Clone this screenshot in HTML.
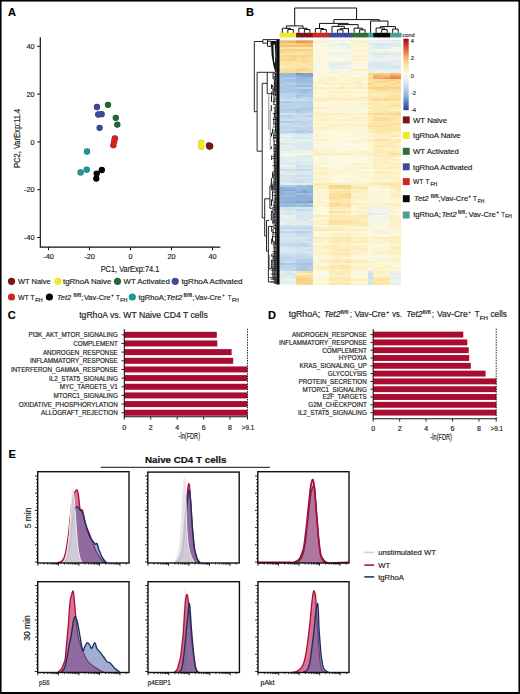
<!DOCTYPE html>
<html><head><meta charset="utf-8"><title>Figure</title><style>
html,body{margin:0;padding:0;background:#fff;width:520px;height:694px;overflow:hidden;}
svg{display:block;color:#231f20;}
text{font-family:"Liberation Sans",sans-serif;stroke:currentColor;stroke-width:0.18px;}
</style></head><body>
<svg width="520" height="694" viewBox="0 0 520 694">
<rect x="0" y="0" width="520" height="694" fill="#fff"/>
<rect x="0.75" y="0.75" width="518.5" height="692.3" fill="none" stroke="#000" stroke-width="1.6"/>
<rect x="0" y="692" width="520" height="2" fill="#000"/>
<text x="8" y="16" font-size="11" font-weight="bold" fill="#000" color="#000">A</text>
<path d="M40.3 37.3V247.2H220.3" fill="none" stroke="#111" stroke-width="1.2"/>
<path d="M37.2 46.3H40.3" stroke="#111" stroke-width="1"/>
<text x="34.5" y="48.90000000000001" font-size="7.3" text-anchor="end" fill="#231f20" color="#231f20">40</text>
<path d="M37.2 94.1H40.3" stroke="#111" stroke-width="1"/>
<text x="34.5" y="96.7" font-size="7.3" text-anchor="end" fill="#231f20" color="#231f20">20</text>
<path d="M37.2 141.9H40.3" stroke="#111" stroke-width="1"/>
<text x="34.5" y="144.5" font-size="7.3" text-anchor="end" fill="#231f20" color="#231f20">0</text>
<path d="M37.2 189.7H40.3" stroke="#111" stroke-width="1"/>
<text x="34.5" y="192.29999999999998" font-size="7.3" text-anchor="end" fill="#231f20" color="#231f20">-20</text>
<path d="M37.2 237.5H40.3" stroke="#111" stroke-width="1"/>
<text x="34.5" y="240.1" font-size="7.3" text-anchor="end" fill="#231f20" color="#231f20">-40</text>
<path d="M48.5 247.2V250.3" stroke="#111" stroke-width="1"/>
<text x="48.5" y="258.8" font-size="7.3" text-anchor="middle" fill="#231f20" color="#231f20">-40</text>
<path d="M89.5 247.2V250.3" stroke="#111" stroke-width="1"/>
<text x="89.5" y="258.8" font-size="7.3" text-anchor="middle" fill="#231f20" color="#231f20">-20</text>
<path d="M130.5 247.2V250.3" stroke="#111" stroke-width="1"/>
<text x="130.5" y="258.8" font-size="7.3" text-anchor="middle" fill="#231f20" color="#231f20">0</text>
<path d="M171.5 247.2V250.3" stroke="#111" stroke-width="1"/>
<text x="171.5" y="258.8" font-size="7.3" text-anchor="middle" fill="#231f20" color="#231f20">20</text>
<path d="M212.5 247.2V250.3" stroke="#111" stroke-width="1"/>
<text x="212.5" y="258.8" font-size="7.3" text-anchor="middle" fill="#231f20" color="#231f20">40</text>
<text x="130" y="271.6" font-size="8.6" text-anchor="middle" textLength="58.6" lengthAdjust="spacingAndGlyphs" fill="#231f20" color="#231f20">PC1, VarExp:74.1</text>
<text x="0" y="0" font-size="8.6" text-anchor="middle" fill="#231f20" textLength="59.3" lengthAdjust="spacingAndGlyphs" transform="translate(19.6,138.35) rotate(-90)">PC2, VarExp:11.4</text>
<circle cx="97.0" cy="107.0" r="3.15" fill="#2b3570"/>
<circle cx="98.2" cy="114.5" r="3.15" fill="#2b3570"/>
<circle cx="101.6" cy="114.2" r="3.15" fill="#2b3570"/>
<circle cx="99.6" cy="127.8" r="3.15" fill="#2b3570"/>
<circle cx="97.0" cy="107.0" r="2.65" fill="#3d4a9c"/>
<circle cx="98.2" cy="114.5" r="2.65" fill="#3d4a9c"/>
<circle cx="101.6" cy="114.2" r="2.65" fill="#3d4a9c"/>
<circle cx="99.6" cy="127.8" r="2.65" fill="#3d4a9c"/>
<circle cx="108" cy="104.8" r="3.15" fill="#164c22"/>
<circle cx="115.8" cy="117.8" r="3.15" fill="#164c22"/>
<circle cx="117.3" cy="124.6" r="3.15" fill="#164c22"/>
<circle cx="108" cy="104.8" r="2.65" fill="#1f6a30"/>
<circle cx="115.8" cy="117.8" r="2.65" fill="#1f6a30"/>
<circle cx="117.3" cy="124.6" r="2.65" fill="#1f6a30"/>
<circle cx="114.8" cy="138.4" r="3.15" fill="#951b15"/>
<circle cx="114.2" cy="141.5" r="3.15" fill="#951b15"/>
<circle cx="113.4" cy="145.2" r="3.15" fill="#951b15"/>
<circle cx="114.8" cy="138.4" r="2.65" fill="#d0261e"/>
<circle cx="114.2" cy="141.5" r="2.65" fill="#d0261e"/>
<circle cx="113.4" cy="145.2" r="2.65" fill="#d0261e"/>
<circle cx="87" cy="151.5" r="3.15" fill="#126e6c"/>
<circle cx="86.7" cy="169.7" r="3.15" fill="#126e6c"/>
<circle cx="80.6" cy="172.4" r="3.15" fill="#126e6c"/>
<circle cx="87" cy="151.5" r="2.65" fill="#1a9996"/>
<circle cx="86.7" cy="169.7" r="2.65" fill="#1a9996"/>
<circle cx="80.6" cy="172.4" r="2.65" fill="#1a9996"/>
<circle cx="101.8" cy="170" r="3.15" fill="#030303"/>
<circle cx="96.7" cy="173.6" r="3.15" fill="#030303"/>
<circle cx="96.3" cy="178.6" r="3.15" fill="#030303"/>
<circle cx="101.8" cy="170" r="2.65" fill="#050505"/>
<circle cx="96.7" cy="173.6" r="2.65" fill="#050505"/>
<circle cx="96.3" cy="178.6" r="2.65" fill="#050505"/>
<circle cx="201.3" cy="142.6" r="3.15" fill="#d4cc24"/>
<circle cx="200.9" cy="145.0" r="3.15" fill="#d4cc24"/>
<circle cx="201.3" cy="147.0" r="3.15" fill="#d4cc24"/>
<circle cx="201.3" cy="142.6" r="2.65" fill="#f2e82a"/>
<circle cx="200.9" cy="145.0" r="2.65" fill="#f2e82a"/>
<circle cx="201.3" cy="147.0" r="2.65" fill="#f2e82a"/>
<circle cx="209.0" cy="145.3" r="3.15" fill="#570f11"/>
<circle cx="210.2" cy="146.2" r="3.15" fill="#570f11"/>
<circle cx="209.4" cy="146.6" r="3.15" fill="#570f11"/>
<circle cx="209.0" cy="145.3" r="2.65" fill="#7a1518"/>
<circle cx="210.2" cy="146.2" r="2.65" fill="#7a1518"/>
<circle cx="209.4" cy="146.6" r="2.65" fill="#7a1518"/>
<circle cx="11.5" cy="281.3" r="3.6" fill="#7a1518"/>
<text x="17.9" y="284.1" font-size="7.8" textLength="32.8" lengthAdjust="spacingAndGlyphs" fill="#231f20" color="#231f20">WT Naive</text>
<circle cx="57.9" cy="281.3" r="3.6" fill="#f2e82a"/>
<text x="63" y="284.1" font-size="7.8" textLength="48.3" lengthAdjust="spacingAndGlyphs" fill="#231f20" color="#231f20">tgRhoA Naive</text>
<circle cx="117.5" cy="281.3" r="3.6" fill="#1f6a30"/>
<text x="123.5" y="284.1" font-size="7.8" textLength="46.3" lengthAdjust="spacingAndGlyphs" fill="#231f20" color="#231f20">WT Activated</text>
<circle cx="175.2" cy="281.3" r="3.6" fill="#3d4a9c"/>
<text x="181.4" y="284.1" font-size="7.8" textLength="61.2" lengthAdjust="spacingAndGlyphs" fill="#231f20" color="#231f20">tgRhoA Activated</text>
<circle cx="11.5" cy="297.0" r="3.6" fill="#d0261e"/>
<circle cx="49.4" cy="297.0" r="3.6" fill="#050505"/>
<circle cx="132.3" cy="297.0" r="3.6" fill="#1a9996"/>
<text x="17.9" y="299.80" font-size="7.80" fill="#231f20" color="#231f20" textLength="10.9" lengthAdjust="spacingAndGlyphs">WT</text>
<text x="30.2" y="299.80" font-size="7.80" fill="#231f20" color="#231f20" textLength="4.4" lengthAdjust="spacingAndGlyphs">T</text>
<text x="35.2" y="301.75" font-size="4.84" fill="#231f20" color="#231f20" textLength="7.5" lengthAdjust="spacingAndGlyphs">FH</text>
<text x="57.1" y="299.80" font-size="7.80" fill="#231f20" color="#231f20" textLength="13.9" lengthAdjust="spacingAndGlyphs" font-style="italic">Tet2</text>
<text x="73.5" y="296.84" font-size="4.68" fill="#231f20" color="#231f20" textLength="7.5" lengthAdjust="spacingAndGlyphs">fl/fl</text>
<text x="81.3" y="299.80" font-size="7.80" fill="#231f20" color="#231f20" textLength="2" lengthAdjust="spacingAndGlyphs">;</text>
<text x="83.9" y="299.80" font-size="7.80" fill="#231f20" color="#231f20" textLength="26.8" lengthAdjust="spacingAndGlyphs">Vav-Cre</text>
<text x="111.3" y="296.84" font-size="4.68" fill="#231f20" color="#231f20" textLength="2.4" lengthAdjust="spacingAndGlyphs">+</text>
<text x="115.9" y="299.80" font-size="7.80" fill="#231f20" color="#231f20" textLength="3.8" lengthAdjust="spacingAndGlyphs">T</text>
<text x="120.3" y="301.75" font-size="4.84" fill="#231f20" color="#231f20" textLength="7.2" lengthAdjust="spacingAndGlyphs">FH</text>
<text x="138.4" y="299.80" font-size="7.80" fill="#231f20" color="#231f20" textLength="27.7" lengthAdjust="spacingAndGlyphs">tgRhoA;</text>
<text x="166.1" y="299.80" font-size="7.80" fill="#231f20" color="#231f20" textLength="16.2" lengthAdjust="spacingAndGlyphs" font-style="italic">Tet2</text>
<text x="183.5" y="296.84" font-size="4.68" fill="#231f20" color="#231f20" textLength="8.5" lengthAdjust="spacingAndGlyphs">fl/fl</text>
<text x="192.5" y="299.80" font-size="7.80" fill="#231f20" color="#231f20" textLength="2" lengthAdjust="spacingAndGlyphs">;</text>
<text x="195" y="299.80" font-size="7.80" fill="#231f20" color="#231f20" textLength="26.3" lengthAdjust="spacingAndGlyphs">Vav-Cre</text>
<text x="222.5" y="296.84" font-size="4.68" fill="#231f20" color="#231f20" textLength="2" lengthAdjust="spacingAndGlyphs">+</text>
<text x="228.1" y="299.80" font-size="7.80" fill="#231f20" color="#231f20" textLength="3.4" lengthAdjust="spacingAndGlyphs">T</text>
<text x="231.9" y="301.75" font-size="4.84" fill="#231f20" color="#231f20" textLength="6.9" lengthAdjust="spacingAndGlyphs">FH</text>
<text x="246" y="16.2" font-size="11" font-weight="bold" fill="#000" color="#000">B</text>
<g shape-rendering="crispEdges">
<path fill="#f7d993" d="M279.50 39.5h5.52v0.5h-5.52zM290.55 42.5h5.52v2h-5.52zM290.55 50.5h5.52v2h-5.52zM296.07 54.5h5.52v2h-5.52zM301.59 58.5h5.52v2h-5.52zM301.59 68.5h5.52v2h-5.52zM367.86 72.5h5.52v2h-5.52zM384.43 78.5h5.52v2h-5.52zM373.39 80.5h11.05v2h-11.05zM378.91 112.5h5.52v2h-5.52zM340.25 186.5h5.52v2h-5.52zM345.77 192.5h5.52v2h-5.52zM345.77 194.5h5.52v2h-5.52zM329.20 196.5h5.52v2h-5.52zM334.73 202.5h5.52v2h-5.52zM307.11 270.5h5.52v2h-5.52zM307.11 276.5h5.52v2h-5.52zM301.59 282.5h5.52v2h-5.52z"/>
<path fill="#f7cf89" d="M285.02 39.5h5.52v0.5h-5.52zM389.95 78.5h5.52v2h-5.52z"/>
<path fill="#f7d489" d="M290.55 39.5h5.52v0.5h-5.52zM285.02 40h5.52v0.5h-5.52zM279.50 48.5h5.52v2h-5.52zM290.55 48.5h5.52v2h-5.52zM301.59 54.5h5.52v2h-5.52zM367.86 76.5h5.52v2h-5.52zM367.86 82.5h5.52v2h-5.52zM367.86 86.5h5.52v2h-5.52zM378.91 86.5h5.52v2h-5.52zM329.20 184.5h5.52v2h-5.52zM296.07 276.5h11.05v2h-11.05zM301.59 278.5h5.52v2h-5.52zM296.07 280.5h16.57v2h-16.57z"/>
<path fill="#f2bb70" d="M296.07 39.5h5.52v0.5h-5.52zM378.91 74.5h11.05v2h-11.05z"/>
<path fill="#f7bb70" d="M301.59 39.5h5.52v0.5h-5.52zM296.07 40h11.05v0.5h-11.05zM279.50 40.5h5.52v2h-5.52zM307.11 44.5h5.52v2h-5.52zM389.95 72.5h5.52v2h-5.52z"/>
<path fill="#f7c575" d="M307.11 39.5h5.52v0.5h-5.52zM279.50 44.5h5.52v2h-5.52zM301.59 44.5h5.52v2h-5.52z"/>
<path fill="#f2f7e8" d="M312.64 39.5h5.52v0.5h-5.52zM323.68 39.5h5.52v0.5h-5.52zM373.39 40.5h5.52v2h-5.52zM334.73 44.5h5.52v2h-5.52zM340.25 46.5h5.52v2h-5.52zM373.39 48.5h5.52v2h-5.52zM384.43 48.5h5.52v2h-5.52zM334.73 50.5h16.57v2h-16.57zM312.64 52.5h5.52v2h-5.52zM329.20 54.5h16.57v2h-16.57zM367.86 56.5h5.52v2h-5.52zM312.64 64.5h5.52v2h-5.52zM329.20 68.5h5.52v2h-5.52zM340.25 70.5h5.52v2h-5.52zM312.64 72.5h5.52v2h-5.52zM351.30 132.5h5.52v2h-5.52zM362.34 132.5h5.52v2h-5.52zM279.50 152.5h11.05v2h-11.05zM285.02 154.5h11.05v2h-11.05zM318.16 156.5h11.05v2h-11.05zM367.86 192.5h5.52v2h-5.52zM367.86 200.5h5.52v2h-5.52zM378.91 200.5h5.52v2h-5.52zM373.39 208.5h5.52v2h-5.52zM384.43 208.5h5.52v2h-5.52zM373.39 210.5h16.57v2h-16.57zM367.86 214.5h5.52v2h-5.52zM378.91 216.5h5.52v2h-5.52zM373.39 218.5h16.57v2h-16.57zM373.39 220.5h5.52v2h-5.52zM367.86 230.5h5.52v2h-5.52zM367.86 256.5h5.52v2h-5.52zM384.43 256.5h5.52v2h-5.52zM395.48 274.5h5.52v2h-5.52zM395.48 280.5h5.52v2h-5.52z"/>
<path fill="#f7f7e3" d="M318.16 39.5h5.52v0.5h-5.52zM356.82 39.5h5.52v0.5h-5.52zM312.64 40h5.52v0.5h-5.52zM362.34 42.5h5.52v2h-5.52zM318.16 44.5h5.52v2h-5.52zM356.82 64.5h11.05v2h-11.05zM312.64 68.5h5.52v2h-5.52zM340.25 108.5h5.52v2h-5.52zM351.30 108.5h5.52v2h-5.52zM312.64 142.5h5.52v2h-5.52zM329.20 164.5h5.52v2h-5.52zM384.43 190.5h5.52v2h-5.52zM373.39 200.5h5.52v2h-5.52zM373.39 214.5h5.52v2h-5.52zM367.86 218.5h5.52v2h-5.52zM367.86 226.5h5.52v2h-5.52zM318.16 256.5h5.52v2h-5.52zM356.82 272.5h5.52v2h-5.52z"/>
<path fill="#d9e8ed" d="M329.20 39.5h11.05v0.5h-11.05zM395.48 40h5.52v0.5h-5.52zM389.95 44.5h5.52v2h-5.52zM378.91 52.5h11.05v2h-11.05zM378.91 62.5h11.05v2h-11.05zM367.86 64.5h11.05v2h-11.05zM384.43 64.5h5.52v2h-5.52zM395.48 64.5h5.52v2h-5.52zM373.39 66.5h5.52v2h-5.52zM384.43 66.5h5.52v2h-5.52zM395.48 66.5h5.52v2h-5.52zM290.55 132.5h5.52v2h-5.52zM290.55 136.5h5.52v2h-5.52zM301.59 136.5h11.05v2h-11.05zM290.55 142.5h16.57v2h-16.57zM296.07 144.5h5.52v2h-5.52zM301.59 146.5h11.05v2h-11.05zM296.07 160.5h16.57v2h-16.57zM296.07 162.5h5.52v2h-5.52zM301.59 166.5h5.52v2h-5.52zM285.02 170.5h22.09v2h-22.09zM296.07 172.5h16.57v2h-16.57zM279.50 176.5h11.05v2h-11.05zM296.07 176.5h5.52v2h-5.52zM279.50 206.5h5.52v2h-5.52zM296.07 206.5h16.57v2h-16.57zM279.50 208.5h5.52v2h-5.52zM296.07 210.5h5.52v2h-5.52zM279.50 212.5h5.52v2h-5.52zM301.59 212.5h5.52v2h-5.52zM301.59 214.5h5.52v2h-5.52zM296.07 218.5h5.52v2h-5.52zM307.11 220.5h5.52v2h-5.52zM285.02 228.5h5.52v2h-5.52zM279.50 236.5h22.09v2h-22.09zM279.50 246.5h16.57v2h-16.57zM285.02 248.5h5.52v2h-5.52zM279.50 250.5h5.52v2h-5.52zM290.55 250.5h5.52v2h-5.52zM285.02 270.5h5.52v2h-5.52zM290.55 272.5h5.52v2h-5.52zM290.55 274.5h5.52v2h-5.52z"/>
<path fill="#dee8ed" d="M340.25 39.5h11.05v0.5h-11.05zM378.91 39.5h5.52v0.5h-5.52zM389.95 40h5.52v0.5h-5.52zM378.91 42.5h5.52v2h-5.52zM378.91 44.5h5.52v2h-5.52zM378.91 46.5h5.52v2h-5.52zM373.39 52.5h5.52v2h-5.52zM384.43 60.5h5.52v2h-5.52zM367.86 62.5h5.52v2h-5.52zM389.95 64.5h5.52v2h-5.52zM378.91 66.5h5.52v2h-5.52zM285.02 132.5h5.52v2h-5.52zM285.02 142.5h5.52v2h-5.52zM307.11 144.5h5.52v2h-5.52zM296.07 146.5h5.52v2h-5.52zM279.50 156.5h5.52v2h-5.52zM285.02 162.5h11.05v2h-11.05zM279.50 166.5h5.52v2h-5.52zM290.55 166.5h5.52v2h-5.52zM285.02 210.5h11.05v2h-11.05zM307.11 212.5h5.52v2h-5.52zM290.55 248.5h5.52v2h-5.52zM285.02 250.5h5.52v2h-5.52zM367.86 270.5h5.52v2h-5.52zM367.86 278.5h5.52v2h-5.52z"/>
<path fill="#f7f7e8" d="M351.30 39.5h5.52v0.5h-5.52zM318.16 40h5.52v0.5h-5.52zM334.73 40.5h11.05v2h-11.05zM318.16 42.5h5.52v2h-5.52zM329.20 46.5h11.05v2h-11.05zM389.95 46.5h11.05v2h-11.05zM378.91 48.5h5.52v2h-5.52zM395.48 48.5h5.52v2h-5.52zM329.20 50.5h5.52v2h-5.52zM318.16 52.5h11.05v2h-11.05zM345.77 54.5h5.52v2h-5.52zM329.20 56.5h22.09v2h-22.09zM312.64 62.5h16.57v2h-16.57zM323.68 64.5h5.52v2h-5.52zM351.30 64.5h5.52v2h-5.52zM312.64 66.5h5.52v2h-5.52zM323.68 66.5h5.52v2h-5.52zM334.73 68.5h11.05v2h-11.05zM323.68 70.5h5.52v2h-5.52zM351.30 70.5h5.52v2h-5.52zM323.68 72.5h5.52v2h-5.52zM351.30 72.5h16.57v2h-16.57zM312.64 84.5h5.52v2h-5.52zM362.34 108.5h5.52v2h-5.52zM356.82 132.5h5.52v2h-5.52zM334.73 142.5h5.52v2h-5.52zM351.30 142.5h5.52v2h-5.52zM362.34 142.5h5.52v2h-5.52zM329.20 148.5h11.05v2h-11.05zM345.77 148.5h5.52v2h-5.52zM290.55 152.5h11.05v2h-11.05zM307.11 152.5h5.52v2h-5.52zM329.20 160.5h5.52v2h-5.52zM312.64 164.5h11.05v2h-11.05zM367.86 174.5h5.52v2h-5.52zM367.86 196.5h5.52v2h-5.52zM384.43 200.5h5.52v2h-5.52zM312.64 208.5h5.52v2h-5.52zM312.64 212.5h5.52v2h-5.52zM367.86 216.5h11.05v2h-11.05zM378.91 220.5h11.05v2h-11.05zM373.39 222.5h16.57v2h-16.57zM395.48 230.5h5.52v2h-5.52zM367.86 242.5h5.52v2h-5.52zM356.82 256.5h5.52v2h-5.52zM373.39 256.5h11.05v2h-11.05zM318.16 272.5h5.52v2h-5.52z"/>
<path fill="#fcf7e3" d="M362.34 39.5h5.52v0.5h-5.52zM323.68 42.5h5.52v2h-5.52zM312.64 44.5h5.52v2h-5.52zM323.68 44.5h5.52v2h-5.52zM362.34 46.5h5.52v2h-5.52zM389.95 48.5h5.52v2h-5.52zM351.30 52.5h5.52v2h-5.52zM362.34 52.5h5.52v2h-5.52zM345.77 58.5h5.52v2h-5.52zM318.16 60.5h11.05v2h-11.05zM351.30 60.5h16.57v2h-16.57zM362.34 62.5h5.52v2h-5.52zM318.16 64.5h5.52v2h-5.52zM351.30 66.5h5.52v2h-5.52zM318.16 68.5h11.05v2h-11.05zM345.77 68.5h5.52v2h-5.52zM312.64 70.5h11.05v2h-11.05zM356.82 70.5h5.52v2h-5.52zM318.16 72.5h5.52v2h-5.52zM362.34 74.5h5.52v2h-5.52zM323.68 84.5h5.52v2h-5.52zM362.34 88.5h5.52v2h-5.52zM318.16 102.5h11.05v2h-11.05zM329.20 108.5h5.52v2h-5.52zM329.20 132.5h5.52v2h-5.52zM312.64 136.5h5.52v2h-5.52zM356.82 136.5h11.05v2h-11.05zM340.25 140.5h5.52v2h-5.52zM340.25 142.5h5.52v2h-5.52zM312.64 146.5h16.57v2h-16.57zM340.25 146.5h16.57v2h-16.57zM356.82 148.5h5.52v2h-5.52zM301.59 152.5h5.52v2h-5.52zM356.82 154.5h5.52v2h-5.52zM334.73 156.5h5.52v2h-5.52zM345.77 156.5h5.52v2h-5.52zM340.25 160.5h5.52v2h-5.52zM356.82 160.5h11.05v2h-11.05zM367.86 164.5h5.52v2h-5.52zM351.30 168.5h5.52v2h-5.52zM362.34 178.5h5.52v2h-5.52zM345.77 180.5h5.52v2h-5.52zM378.91 188.5h5.52v2h-5.52zM373.39 192.5h5.52v2h-5.52zM378.91 196.5h5.52v2h-5.52zM373.39 198.5h11.05v2h-11.05zM323.68 212.5h5.52v2h-5.52zM384.43 214.5h5.52v2h-5.52zM323.68 230.5h5.52v2h-5.52zM362.34 230.5h5.52v2h-5.52zM389.95 230.5h5.52v2h-5.52zM318.16 234.5h5.52v2h-5.52zM312.64 242.5h5.52v2h-5.52zM367.86 244.5h5.52v2h-5.52zM378.91 254.5h5.52v2h-5.52zM323.68 256.5h5.52v2h-5.52zM367.86 262.5h5.52v2h-5.52zM351.30 270.5h5.52v2h-5.52zM323.68 272.5h5.52v2h-5.52zM318.16 274.5h11.05v2h-11.05z"/>
<path fill="#e3eded" d="M367.86 39.5h5.52v0.5h-5.52zM373.39 40h11.05v0.5h-11.05zM340.25 42.5h5.52v2h-5.52zM367.86 42.5h5.52v2h-5.52zM395.48 42.5h5.52v2h-5.52zM373.39 54.5h11.05v2h-11.05zM395.48 54.5h5.52v2h-5.52zM395.48 58.5h5.52v2h-5.52zM367.86 60.5h5.52v2h-5.52zM378.91 60.5h5.52v2h-5.52zM395.48 60.5h5.52v2h-5.52zM334.73 62.5h11.05v2h-11.05zM389.95 62.5h5.52v2h-5.52zM329.20 64.5h5.52v2h-5.52zM384.43 68.5h5.52v2h-5.52zM367.86 70.5h5.52v2h-5.52zM290.55 134.5h22.09v2h-22.09zM285.02 136.5h5.52v2h-5.52zM285.02 138.5h11.05v2h-11.05zM290.55 144.5h5.52v2h-5.52zM279.50 146.5h16.57v2h-16.57zM279.50 148.5h5.52v2h-5.52zM301.59 148.5h5.52v2h-5.52zM296.07 154.5h5.52v2h-5.52zM285.02 156.5h22.09v2h-22.09zM285.02 158.5h5.52v2h-5.52zM296.07 158.5h5.52v2h-5.52zM307.11 158.5h5.52v2h-5.52zM279.50 160.5h16.57v2h-16.57zM301.59 162.5h5.52v2h-5.52zM285.02 166.5h5.52v2h-5.52zM279.50 170.5h5.52v2h-5.52zM279.50 172.5h16.57v2h-16.57zM279.50 182.5h5.52v2h-5.52zM301.59 182.5h11.05v2h-11.05zM367.86 212.5h16.57v2h-16.57zM279.50 216.5h5.52v2h-5.52zM279.50 218.5h16.57v2h-16.57zM285.02 220.5h11.05v2h-11.05zM301.59 220.5h5.52v2h-5.52zM290.55 222.5h22.09v2h-22.09zM395.48 272.5h5.52v2h-5.52zM279.50 276.5h16.57v2h-16.57zM395.48 276.5h5.52v2h-5.52zM279.50 278.5h5.52v2h-5.52zM285.02 280.5h11.05v2h-11.05z"/>
<path fill="#deeded" d="M373.39 39.5h5.52v0.5h-5.52zM384.43 40h5.52v0.5h-5.52zM389.95 42.5h5.52v2h-5.52zM373.39 44.5h5.52v2h-5.52zM384.43 44.5h5.52v2h-5.52zM395.48 44.5h5.52v2h-5.52zM373.39 46.5h5.52v2h-5.52zM384.43 46.5h5.52v2h-5.52zM389.95 52.5h11.05v2h-11.05zM373.39 60.5h5.52v2h-5.52zM389.95 60.5h5.52v2h-5.52zM329.20 62.5h5.52v2h-5.52zM345.77 62.5h5.52v2h-5.52zM367.86 66.5h5.52v2h-5.52zM279.50 136.5h5.52v2h-5.52zM296.07 140.5h16.57v2h-16.57zM301.59 144.5h5.52v2h-5.52zM285.02 148.5h5.52v2h-5.52zM296.07 148.5h5.52v2h-5.52zM307.11 148.5h5.52v2h-5.52zM301.59 154.5h11.05v2h-11.05zM307.11 156.5h5.52v2h-5.52zM279.50 158.5h5.52v2h-5.52zM279.50 162.5h5.52v2h-5.52zM307.11 162.5h5.52v2h-5.52zM296.07 182.5h5.52v2h-5.52zM279.50 210.5h5.52v2h-5.52zM301.59 216.5h5.52v2h-5.52zM307.11 218.5h5.52v2h-5.52zM296.07 220.5h5.52v2h-5.52zM285.02 222.5h5.52v2h-5.52zM279.50 272.5h5.52v2h-5.52zM389.95 272.5h5.52v2h-5.52zM285.02 274.5h5.52v2h-5.52zM279.50 280.5h5.52v2h-5.52z"/>
<path fill="#d4e3f2" d="M384.43 39.5h11.05v0.5h-11.05zM373.39 62.5h5.52v2h-5.52zM378.91 64.5h5.52v2h-5.52zM389.95 66.5h5.52v2h-5.52zM279.50 112.5h5.52v2h-5.52zM296.07 132.5h11.05v2h-11.05zM296.07 136.5h5.52v2h-5.52zM279.50 142.5h5.52v2h-5.52zM301.59 164.5h5.52v2h-5.52zM296.07 166.5h5.52v2h-5.52zM301.59 176.5h5.52v2h-5.52zM285.02 178.5h5.52v2h-5.52zM301.59 178.5h5.52v2h-5.52zM290.55 180.5h5.52v2h-5.52zM307.11 210.5h5.52v2h-5.52zM296.07 214.5h5.52v2h-5.52zM296.07 216.5h5.52v2h-5.52zM301.59 218.5h5.52v2h-5.52zM279.50 224.5h5.52v2h-5.52zM290.55 224.5h5.52v2h-5.52zM279.50 232.5h5.52v2h-5.52zM290.55 232.5h5.52v2h-5.52zM301.59 236.5h11.05v2h-11.05zM290.55 238.5h5.52v2h-5.52zM279.50 240.5h11.05v2h-11.05zM296.07 246.5h5.52v2h-5.52zM296.07 250.5h5.52v2h-5.52zM367.86 274.5h5.52v2h-5.52z"/>
<path fill="#cadeed" d="M395.48 39.5h5.52v0.5h-5.52zM285.02 98.5h22.09v2h-22.09zM301.59 112.5h11.05v2h-11.05zM296.07 116.5h16.57v2h-16.57zM279.50 118.5h11.05v2h-11.05zM301.59 118.5h5.52v2h-5.52zM279.50 122.5h11.05v2h-11.05zM290.55 124.5h5.52v2h-5.52zM279.50 168.5h5.52v2h-5.52zM307.11 168.5h5.52v2h-5.52zM279.50 174.5h5.52v2h-5.52zM296.07 174.5h5.52v2h-5.52zM307.11 174.5h5.52v2h-5.52zM296.07 180.5h5.52v2h-5.52zM301.59 208.5h11.05v2h-11.05zM285.02 224.5h5.52v2h-5.52zM296.07 228.5h5.52v2h-5.52zM307.11 232.5h5.52v2h-5.52zM296.07 234.5h16.57v2h-16.57zM296.07 238.5h5.52v2h-5.52zM307.11 238.5h5.52v2h-5.52zM307.11 242.5h5.52v2h-5.52zM279.50 244.5h5.52v2h-5.52zM307.11 248.5h5.52v2h-5.52zM279.50 252.5h5.52v2h-5.52zM296.07 252.5h5.52v2h-5.52zM367.86 272.5h5.52v2h-5.52zM367.86 276.5h5.52v2h-5.52z"/>
<path fill="#f7d48e" d="M279.50 40h5.52v0.5h-5.52zM290.55 40h5.52v0.5h-5.52zM285.02 42.5h5.52v2h-5.52zM279.50 50.5h5.52v2h-5.52zM285.02 54.5h11.05v2h-11.05zM307.11 54.5h5.52v2h-5.52zM290.55 56.5h5.52v2h-5.52zM296.07 68.5h5.52v2h-5.52zM384.43 86.5h16.57v2h-16.57zM395.48 112.5h5.52v2h-5.52zM340.25 184.5h11.05v2h-11.05zM307.11 278.5h5.52v2h-5.52z"/>
<path fill="#f7c075" d="M307.11 40h5.52v0.5h-5.52zM301.59 42.5h11.05v2h-11.05zM285.02 44.5h16.57v2h-16.57z"/>
<path fill="#fcfce3" d="M323.68 40h5.52v0.5h-5.52zM329.20 40.5h5.52v2h-5.52zM345.77 40.5h5.52v2h-5.52zM318.16 46.5h5.52v2h-5.52zM329.20 48.5h16.57v2h-16.57zM356.82 52.5h5.52v2h-5.52zM323.68 56.5h5.52v2h-5.52zM329.20 58.5h16.57v2h-16.57zM318.16 66.5h5.52v2h-5.52zM362.34 66.5h5.52v2h-5.52zM351.30 74.5h5.52v2h-5.52zM318.16 84.5h5.52v2h-5.52zM356.82 88.5h5.52v2h-5.52zM340.25 100.5h5.52v2h-5.52zM356.82 108.5h5.52v2h-5.52zM329.20 130.5h5.52v2h-5.52zM340.25 130.5h5.52v2h-5.52zM334.73 132.5h16.57v2h-16.57zM334.73 136.5h22.09v2h-22.09zM345.77 142.5h5.52v2h-5.52zM356.82 142.5h5.52v2h-5.52zM334.73 146.5h5.52v2h-5.52zM362.34 146.5h5.52v2h-5.52zM340.25 148.5h5.52v2h-5.52zM312.64 156.5h5.52v2h-5.52zM329.20 156.5h5.52v2h-5.52zM340.25 156.5h5.52v2h-5.52zM362.34 156.5h5.52v2h-5.52zM334.73 158.5h5.52v2h-5.52zM345.77 158.5h5.52v2h-5.52zM334.73 160.5h5.52v2h-5.52zM345.77 160.5h11.05v2h-11.05zM323.68 164.5h5.52v2h-5.52zM362.34 168.5h11.05v2h-11.05zM334.73 174.5h16.57v2h-16.57zM334.73 178.5h5.52v2h-5.52zM329.20 180.5h16.57v2h-16.57zM373.39 188.5h5.52v2h-5.52zM323.68 198.5h5.52v2h-5.52zM318.16 206.5h5.52v2h-5.52zM318.16 208.5h11.05v2h-11.05zM312.64 210.5h5.52v2h-5.52zM323.68 210.5h5.52v2h-5.52zM318.16 212.5h5.52v2h-5.52zM378.91 214.5h5.52v2h-5.52zM367.86 220.5h5.52v2h-5.52zM378.91 224.5h5.52v2h-5.52zM378.91 234.5h11.05v2h-11.05zM373.39 254.5h5.52v2h-5.52zM384.43 254.5h5.52v2h-5.52zM351.30 256.5h5.52v2h-5.52zM362.34 256.5h5.52v2h-5.52zM318.16 270.5h11.05v2h-11.05zM312.64 274.5h5.52v2h-5.52zM351.30 274.5h5.52v2h-5.52zM356.82 280.5h5.52v2h-5.52z"/>
<path fill="#e8f2ed" d="M329.20 40h5.52v0.5h-5.52zM367.86 40h5.52v0.5h-5.52zM384.43 40.5h5.52v2h-5.52zM395.48 40.5h5.52v2h-5.52zM334.73 42.5h5.52v2h-5.52zM367.86 44.5h5.52v2h-5.52zM367.86 46.5h5.52v2h-5.52zM367.86 52.5h5.52v2h-5.52zM389.95 54.5h5.52v2h-5.52zM373.39 56.5h11.05v2h-11.05zM389.95 56.5h5.52v2h-5.52zM395.48 62.5h5.52v2h-5.52zM334.73 64.5h11.05v2h-11.05zM329.20 66.5h5.52v2h-5.52zM340.25 66.5h5.52v2h-5.52zM373.39 68.5h5.52v2h-5.52zM389.95 68.5h5.52v2h-5.52zM389.95 70.5h5.52v2h-5.52zM279.50 134.5h5.52v2h-5.52zM279.50 138.5h5.52v2h-5.52zM296.07 138.5h16.57v2h-16.57zM279.50 140.5h16.57v2h-16.57zM279.50 144.5h11.05v2h-11.05zM290.55 148.5h5.52v2h-5.52zM285.02 150.5h5.52v2h-5.52zM296.07 150.5h5.52v2h-5.52zM290.55 158.5h5.52v2h-5.52zM301.59 158.5h5.52v2h-5.52zM285.02 164.5h11.05v2h-11.05zM285.02 182.5h11.05v2h-11.05zM367.86 210.5h5.52v2h-5.52zM384.43 212.5h5.52v2h-5.52zM285.02 216.5h11.05v2h-11.05zM279.50 220.5h5.52v2h-5.52zM279.50 270.5h5.52v2h-5.52zM290.55 270.5h5.52v2h-5.52zM389.95 270.5h5.52v2h-5.52zM389.95 274.5h5.52v2h-5.52zM389.95 276.5h5.52v2h-5.52zM389.95 278.5h11.05v2h-11.05zM279.50 282.5h16.57v2h-16.57zM389.95 282.5h5.52v2h-5.52z"/>
<path fill="#edf2e8" d="M334.73 40h5.52v0.5h-5.52zM345.77 40h5.52v0.5h-5.52zM367.86 40.5h5.52v2h-5.52zM378.91 40.5h5.52v2h-5.52zM329.20 44.5h5.52v2h-5.52zM345.77 44.5h5.52v2h-5.52zM345.77 46.5h5.52v2h-5.52zM367.86 48.5h5.52v2h-5.52zM367.86 50.5h27.61v2h-27.61zM367.86 54.5h5.52v2h-5.52zM367.86 58.5h5.52v2h-5.52zM329.20 60.5h5.52v2h-5.52zM345.77 60.5h5.52v2h-5.52zM345.77 66.5h5.52v2h-5.52zM367.86 68.5h5.52v2h-5.52zM378.91 68.5h5.52v2h-5.52zM329.20 70.5h5.52v2h-5.52zM384.43 70.5h5.52v2h-5.52zM279.50 150.5h5.52v2h-5.52zM367.86 206.5h5.52v2h-5.52zM378.91 206.5h5.52v2h-5.52zM290.55 214.5h5.52v2h-5.52zM389.95 280.5h5.52v2h-5.52z"/>
<path fill="#edf2ed" d="M340.25 40h5.52v0.5h-5.52zM389.95 40.5h5.52v2h-5.52zM329.20 42.5h5.52v2h-5.52zM345.77 42.5h5.52v2h-5.52zM340.25 44.5h5.52v2h-5.52zM395.48 50.5h5.52v2h-5.52zM329.20 52.5h11.05v2h-11.05zM345.77 52.5h5.52v2h-5.52zM384.43 54.5h5.52v2h-5.52zM384.43 56.5h5.52v2h-5.52zM395.48 56.5h5.52v2h-5.52zM373.39 58.5h22.09v2h-22.09zM340.25 60.5h5.52v2h-5.52zM345.77 64.5h5.52v2h-5.52zM334.73 66.5h5.52v2h-5.52zM395.48 68.5h5.52v2h-5.52zM334.73 70.5h5.52v2h-5.52zM345.77 70.5h5.52v2h-5.52zM373.39 70.5h11.05v2h-11.05zM395.48 70.5h5.52v2h-5.52zM285.02 134.5h5.52v2h-5.52zM290.55 150.5h5.52v2h-5.52zM301.59 150.5h11.05v2h-11.05zM279.50 154.5h5.52v2h-5.52zM279.50 164.5h5.52v2h-5.52zM373.39 206.5h5.52v2h-5.52zM384.43 206.5h5.52v2h-5.52zM367.86 208.5h5.52v2h-5.52zM378.91 208.5h5.52v2h-5.52zM279.50 214.5h11.05v2h-11.05zM384.43 216.5h5.52v2h-5.52zM373.39 230.5h16.57v2h-16.57zM395.48 270.5h5.52v2h-5.52zM290.55 278.5h5.52v2h-5.52z"/>
<path fill="#fcf2ca" d="M351.30 40h5.52v0.5h-5.52zM362.34 40h5.52v0.5h-5.52zM312.64 40.5h5.52v2h-5.52zM323.68 40.5h5.52v2h-5.52zM356.82 44.5h11.05v2h-11.05zM362.34 48.5h5.52v2h-5.52zM351.30 58.5h5.52v2h-5.52zM340.25 74.5h5.52v2h-5.52zM329.20 76.5h5.52v2h-5.52zM351.30 76.5h5.52v2h-5.52zM362.34 76.5h5.52v2h-5.52zM318.16 78.5h5.52v2h-5.52zM329.20 78.5h5.52v2h-5.52zM356.82 78.5h5.52v2h-5.52zM323.68 80.5h5.52v2h-5.52zM340.25 80.5h5.52v2h-5.52zM351.30 80.5h11.05v2h-11.05zM312.64 82.5h5.52v2h-5.52zM329.20 82.5h5.52v2h-5.52zM340.25 82.5h5.52v2h-5.52zM351.30 82.5h5.52v2h-5.52zM334.73 90.5h16.57v2h-16.57zM318.16 96.5h11.05v2h-11.05zM356.82 98.5h11.05v2h-11.05zM367.86 100.5h5.52v2h-5.52zM356.82 102.5h5.52v2h-5.52zM362.34 104.5h5.52v2h-5.52zM323.68 106.5h5.52v2h-5.52zM318.16 110.5h5.52v2h-5.52zM356.82 112.5h11.05v2h-11.05zM318.16 114.5h5.52v2h-5.52zM312.64 116.5h5.52v2h-5.52zM323.68 116.5h11.05v2h-11.05zM351.30 116.5h5.52v2h-5.52zM362.34 116.5h5.52v2h-5.52zM312.64 118.5h5.52v2h-5.52zM323.68 118.5h5.52v2h-5.52zM356.82 120.5h5.52v2h-5.52zM367.86 120.5h5.52v2h-5.52zM334.73 122.5h16.57v2h-16.57zM323.68 124.5h11.05v2h-11.05zM312.64 126.5h5.52v2h-5.52zM395.48 132.5h5.52v2h-5.52zM312.64 134.5h5.52v2h-5.52zM373.39 134.5h5.52v2h-5.52zM318.16 138.5h5.52v2h-5.52zM362.34 138.5h5.52v2h-5.52zM395.48 148.5h5.52v2h-5.52zM312.64 150.5h11.05v2h-11.05zM329.20 150.5h5.52v2h-5.52zM351.30 152.5h16.57v2h-16.57zM373.39 156.5h11.05v2h-11.05zM373.39 158.5h27.61v2h-27.61zM378.91 160.5h5.52v2h-5.52zM351.30 162.5h11.05v2h-11.05zM373.39 164.5h11.05v2h-11.05zM312.64 166.5h5.52v2h-5.52zM323.68 166.5h5.52v2h-5.52zM362.34 166.5h5.52v2h-5.52zM318.16 168.5h5.52v2h-5.52zM312.64 170.5h11.05v2h-11.05zM340.25 170.5h5.52v2h-5.52zM373.39 172.5h5.52v2h-5.52zM384.43 172.5h5.52v2h-5.52zM378.91 174.5h11.05v2h-11.05zM312.64 176.5h11.05v2h-11.05zM378.91 176.5h5.52v2h-5.52zM312.64 178.5h5.52v2h-5.52zM373.39 178.5h11.05v2h-11.05zM323.68 180.5h5.52v2h-5.52zM378.91 180.5h16.57v2h-16.57zM356.82 182.5h5.52v2h-5.52zM367.86 184.5h5.52v2h-5.52zM384.43 184.5h5.52v2h-5.52zM378.91 186.5h5.52v2h-5.52zM362.34 188.5h5.52v2h-5.52zM323.68 190.5h5.52v2h-5.52zM389.95 190.5h11.05v2h-11.05zM351.30 192.5h5.52v2h-5.52zM351.30 194.5h5.52v2h-5.52zM389.95 194.5h5.52v2h-5.52zM362.34 196.5h5.52v2h-5.52zM367.86 202.5h5.52v2h-5.52zM323.68 204.5h5.52v2h-5.52zM356.82 204.5h11.05v2h-11.05zM373.39 204.5h11.05v2h-11.05zM389.95 204.5h5.52v2h-5.52zM362.34 206.5h5.52v2h-5.52zM345.77 208.5h5.52v2h-5.52zM351.30 210.5h5.52v2h-5.52zM389.95 210.5h5.52v2h-5.52zM345.77 212.5h5.52v2h-5.52zM362.34 212.5h5.52v2h-5.52zM395.48 216.5h5.52v2h-5.52zM323.68 218.5h5.52v2h-5.52zM395.48 218.5h5.52v2h-5.52zM312.64 222.5h16.57v2h-16.57zM329.20 224.5h5.52v2h-5.52zM356.82 224.5h5.52v2h-5.52zM389.95 224.5h11.05v2h-11.05zM312.64 226.5h5.52v2h-5.52zM389.95 226.5h11.05v2h-11.05zM356.82 232.5h5.52v2h-5.52zM329.20 234.5h11.05v2h-11.05zM345.77 234.5h5.52v2h-5.52zM395.48 234.5h5.52v2h-5.52zM367.86 236.5h5.52v2h-5.52zM373.39 238.5h5.52v2h-5.52zM384.43 238.5h11.05v2h-11.05zM312.64 240.5h5.52v2h-5.52zM367.86 240.5h11.05v2h-11.05zM384.43 240.5h5.52v2h-5.52zM312.64 244.5h16.57v2h-16.57zM362.34 244.5h5.52v2h-5.52zM395.48 244.5h5.52v2h-5.52zM312.64 246.5h5.52v2h-5.52zM384.43 248.5h16.57v2h-16.57zM362.34 250.5h5.52v2h-5.52zM384.43 250.5h5.52v2h-5.52zM312.64 252.5h5.52v2h-5.52zM323.68 252.5h5.52v2h-5.52zM384.43 252.5h5.52v2h-5.52zM329.20 254.5h11.05v2h-11.05zM334.73 256.5h5.52v2h-5.52zM356.82 258.5h5.52v2h-5.52zM378.91 258.5h5.52v2h-5.52zM318.16 260.5h5.52v2h-5.52zM334.73 262.5h5.52v2h-5.52zM345.77 262.5h5.52v2h-5.52zM323.68 264.5h5.52v2h-5.52zM351.30 264.5h5.52v2h-5.52zM384.43 264.5h5.52v2h-5.52zM356.82 266.5h5.52v2h-5.52zM323.68 268.5h5.52v2h-5.52zM356.82 268.5h5.52v2h-5.52zM340.25 274.5h5.52v2h-5.52zM378.91 274.5h11.05v2h-11.05z"/>
<path fill="#fcf2c0" d="M356.82 40h5.52v0.5h-5.52zM351.30 54.5h5.52v2h-5.52zM356.82 58.5h5.52v2h-5.52zM351.30 68.5h11.05v2h-11.05zM356.82 76.5h5.52v2h-5.52zM345.77 78.5h5.52v2h-5.52zM334.73 82.5h5.52v2h-5.52zM323.68 86.5h16.57v2h-16.57zM345.77 86.5h11.05v2h-11.05zM345.77 96.5h11.05v2h-11.05zM329.20 98.5h5.52v2h-5.52zM351.30 98.5h5.52v2h-5.52zM378.91 100.5h5.52v2h-5.52zM395.48 108.5h5.52v2h-5.52zM329.20 118.5h5.52v2h-5.52zM334.73 124.5h5.52v2h-5.52zM362.34 124.5h5.52v2h-5.52zM367.86 134.5h5.52v2h-5.52zM378.91 136.5h5.52v2h-5.52zM373.39 142.5h5.52v2h-5.52zM373.39 146.5h5.52v2h-5.52zM395.48 146.5h5.52v2h-5.52zM384.43 148.5h5.52v2h-5.52zM356.82 150.5h5.52v2h-5.52zM329.20 152.5h5.52v2h-5.52zM378.91 162.5h5.52v2h-5.52zM318.16 166.5h5.52v2h-5.52zM373.39 166.5h11.05v2h-11.05zM395.48 166.5h5.52v2h-5.52zM323.68 170.5h5.52v2h-5.52zM395.48 176.5h5.52v2h-5.52zM351.30 182.5h5.52v2h-5.52zM312.64 184.5h5.52v2h-5.52zM323.68 184.5h5.52v2h-5.52zM318.16 186.5h5.52v2h-5.52zM362.34 190.5h5.52v2h-5.52zM389.95 196.5h5.52v2h-5.52zM329.20 208.5h5.52v2h-5.52zM334.73 212.5h11.05v2h-11.05zM312.64 220.5h5.52v2h-5.52zM323.68 220.5h5.52v2h-5.52zM345.77 224.5h5.52v2h-5.52zM329.20 226.5h5.52v2h-5.52zM362.34 228.5h5.52v2h-5.52zM356.82 236.5h5.52v2h-5.52zM356.82 238.5h5.52v2h-5.52zM334.73 244.5h5.52v2h-5.52zM362.34 246.5h5.52v2h-5.52zM356.82 248.5h5.52v2h-5.52zM334.73 250.5h5.52v2h-5.52zM395.48 250.5h5.52v2h-5.52zM389.95 252.5h5.52v2h-5.52zM362.34 258.5h5.52v2h-5.52zM367.86 264.5h5.52v2h-5.52zM312.64 266.5h5.52v2h-5.52zM384.43 266.5h5.52v2h-5.52zM345.77 272.5h5.52v2h-5.52zM345.77 274.5h5.52v2h-5.52z"/>
<path fill="#f2b66b" d="M285.02 40.5h5.52v2h-5.52z"/>
<path fill="#f2b16b" d="M290.55 40.5h5.52v2h-5.52zM373.39 74.5h5.52v2h-5.52z"/>
<path fill="#ed9857" d="M296.07 40.5h11.05v2h-11.05z"/>
<path fill="#ed9d57" d="M307.11 40.5h5.52v2h-5.52zM395.48 74.5h5.52v2h-5.52zM384.43 76.5h5.52v2h-5.52z"/>
<path fill="#fcf2cf" d="M318.16 40.5h5.52v2h-5.52zM351.30 48.5h11.05v2h-11.05zM351.30 50.5h5.52v2h-5.52zM362.34 54.5h5.52v2h-5.52zM356.82 56.5h5.52v2h-5.52zM362.34 58.5h5.52v2h-5.52zM323.68 76.5h5.52v2h-5.52zM334.73 76.5h5.52v2h-5.52zM334.73 78.5h5.52v2h-5.52zM362.34 78.5h5.52v2h-5.52zM312.64 80.5h5.52v2h-5.52zM362.34 82.5h5.52v2h-5.52zM340.25 84.5h5.52v2h-5.52zM356.82 84.5h5.52v2h-5.52zM362.34 90.5h5.52v2h-5.52zM312.64 92.5h5.52v2h-5.52zM329.20 94.5h5.52v2h-5.52zM345.77 94.5h5.52v2h-5.52zM312.64 96.5h5.52v2h-5.52zM340.25 102.5h5.52v2h-5.52zM362.34 102.5h5.52v2h-5.52zM312.64 110.5h5.52v2h-5.52zM312.64 114.5h5.52v2h-5.52zM340.25 114.5h5.52v2h-5.52zM312.64 122.5h11.05v2h-11.05zM329.20 122.5h5.52v2h-5.52zM345.77 124.5h5.52v2h-5.52zM334.73 126.5h5.52v2h-5.52zM318.16 128.5h11.05v2h-11.05zM318.16 134.5h5.52v2h-5.52zM312.64 138.5h5.52v2h-5.52zM356.82 138.5h5.52v2h-5.52zM351.30 140.5h11.05v2h-11.05zM312.64 148.5h5.52v2h-5.52zM323.68 148.5h5.52v2h-5.52zM351.30 150.5h5.52v2h-5.52zM389.95 156.5h5.52v2h-5.52zM395.48 160.5h5.52v2h-5.52zM362.34 162.5h5.52v2h-5.52zM351.30 166.5h11.05v2h-11.05zM351.30 170.5h5.52v2h-5.52zM362.34 170.5h5.52v2h-5.52zM373.39 174.5h5.52v2h-5.52zM323.68 176.5h5.52v2h-5.52zM367.86 176.5h11.05v2h-11.05zM384.43 176.5h5.52v2h-5.52zM318.16 178.5h5.52v2h-5.52zM389.95 178.5h5.52v2h-5.52zM395.48 180.5h5.52v2h-5.52zM378.91 184.5h5.52v2h-5.52zM362.34 192.5h5.52v2h-5.52zM318.16 194.5h5.52v2h-5.52zM356.82 194.5h5.52v2h-5.52zM373.39 194.5h5.52v2h-5.52zM351.30 198.5h5.52v2h-5.52zM318.16 200.5h5.52v2h-5.52zM318.16 202.5h5.52v2h-5.52zM378.91 202.5h5.52v2h-5.52zM318.16 204.5h5.52v2h-5.52zM367.86 204.5h5.52v2h-5.52zM356.82 206.5h5.52v2h-5.52zM395.48 206.5h5.52v2h-5.52zM356.82 208.5h5.52v2h-5.52zM389.95 208.5h5.52v2h-5.52zM356.82 210.5h11.05v2h-11.05zM356.82 212.5h5.52v2h-5.52zM318.16 218.5h5.52v2h-5.52zM367.86 224.5h5.52v2h-5.52zM340.25 226.5h5.52v2h-5.52zM395.48 228.5h5.52v2h-5.52zM356.82 234.5h5.52v2h-5.52zM323.68 238.5h5.52v2h-5.52zM318.16 240.5h5.52v2h-5.52zM389.95 242.5h5.52v2h-5.52zM351.30 244.5h11.05v2h-11.05zM378.91 246.5h5.52v2h-5.52zM312.64 248.5h5.52v2h-5.52zM318.16 250.5h5.52v2h-5.52zM373.39 250.5h5.52v2h-5.52zM351.30 252.5h11.05v2h-11.05zM373.39 252.5h5.52v2h-5.52zM340.25 256.5h5.52v2h-5.52zM395.48 256.5h5.52v2h-5.52zM318.16 258.5h5.52v2h-5.52zM384.43 258.5h16.57v2h-16.57zM312.64 260.5h5.52v2h-5.52zM373.39 260.5h5.52v2h-5.52zM389.95 260.5h5.52v2h-5.52zM329.20 262.5h5.52v2h-5.52zM362.34 264.5h5.52v2h-5.52zM389.95 266.5h11.05v2h-11.05zM312.64 268.5h5.52v2h-5.52zM351.30 268.5h5.52v2h-5.52zM373.39 268.5h11.05v2h-11.05zM384.43 272.5h5.52v2h-5.52zM351.30 282.5h5.52v2h-5.52zM362.34 282.5h5.52v2h-5.52z"/>
<path fill="#fcf2c5" d="M351.30 40.5h16.57v2h-16.57zM362.34 68.5h5.52v2h-5.52zM318.16 80.5h5.52v2h-5.52zM323.68 82.5h5.52v2h-5.52zM329.20 90.5h5.52v2h-5.52zM340.25 96.5h5.52v2h-5.52zM367.86 104.5h5.52v2h-5.52zM312.64 106.5h11.05v2h-11.05zM367.86 108.5h5.52v2h-5.52zM345.77 112.5h11.05v2h-11.05zM356.82 116.5h5.52v2h-5.52zM334.73 118.5h5.52v2h-5.52zM351.30 118.5h16.57v2h-16.57zM340.25 124.5h5.52v2h-5.52zM351.30 124.5h11.05v2h-11.05zM323.68 126.5h11.05v2h-11.05zM345.77 126.5h5.52v2h-5.52zM312.64 128.5h5.52v2h-5.52zM389.95 132.5h5.52v2h-5.52zM378.91 134.5h11.05v2h-11.05zM373.39 136.5h5.52v2h-5.52zM384.43 136.5h5.52v2h-5.52zM323.68 138.5h5.52v2h-5.52zM367.86 140.5h5.52v2h-5.52zM395.48 142.5h5.52v2h-5.52zM384.43 146.5h5.52v2h-5.52zM389.95 148.5h5.52v2h-5.52zM345.77 150.5h5.52v2h-5.52zM362.34 150.5h5.52v2h-5.52zM334.73 152.5h5.52v2h-5.52zM378.91 152.5h5.52v2h-5.52zM373.39 160.5h5.52v2h-5.52zM384.43 162.5h5.52v2h-5.52zM389.95 164.5h11.05v2h-11.05zM334.73 170.5h5.52v2h-5.52zM389.95 170.5h11.05v2h-11.05zM378.91 172.5h5.52v2h-5.52zM389.95 172.5h11.05v2h-11.05zM389.95 174.5h5.52v2h-5.52zM395.48 178.5h5.52v2h-5.52zM373.39 180.5h5.52v2h-5.52zM340.25 182.5h5.52v2h-5.52zM362.34 182.5h5.52v2h-5.52zM318.16 184.5h5.52v2h-5.52zM312.64 186.5h5.52v2h-5.52zM312.64 188.5h5.52v2h-5.52zM351.30 188.5h5.52v2h-5.52zM356.82 192.5h5.52v2h-5.52zM389.95 192.5h5.52v2h-5.52zM362.34 194.5h5.52v2h-5.52zM395.48 196.5h5.52v2h-5.52zM362.34 198.5h5.52v2h-5.52zM362.34 202.5h5.52v2h-5.52zM384.43 202.5h5.52v2h-5.52zM312.64 204.5h5.52v2h-5.52zM334.73 208.5h5.52v2h-5.52zM329.20 212.5h5.52v2h-5.52zM395.48 214.5h5.52v2h-5.52zM389.95 216.5h5.52v2h-5.52zM389.95 218.5h5.52v2h-5.52zM318.16 220.5h5.52v2h-5.52zM389.95 220.5h5.52v2h-5.52zM389.95 222.5h11.05v2h-11.05zM340.25 224.5h5.52v2h-5.52zM318.16 226.5h11.05v2h-11.05zM345.77 226.5h5.52v2h-5.52zM345.77 228.5h5.52v2h-5.52zM329.20 232.5h5.52v2h-5.52zM340.25 232.5h5.52v2h-5.52zM340.25 234.5h5.52v2h-5.52zM389.95 234.5h5.52v2h-5.52zM323.68 236.5h5.52v2h-5.52zM312.64 238.5h11.05v2h-11.05zM351.30 238.5h5.52v2h-5.52zM395.48 238.5h5.52v2h-5.52zM378.91 240.5h5.52v2h-5.52zM334.73 242.5h16.57v2h-16.57zM340.25 244.5h5.52v2h-5.52zM318.16 246.5h5.52v2h-5.52zM351.30 248.5h5.52v2h-5.52zM373.39 248.5h5.52v2h-5.52zM312.64 250.5h5.52v2h-5.52zM323.68 250.5h5.52v2h-5.52zM351.30 250.5h5.52v2h-5.52zM378.91 250.5h5.52v2h-5.52zM318.16 252.5h5.52v2h-5.52zM378.91 252.5h5.52v2h-5.52zM395.48 252.5h5.52v2h-5.52zM340.25 254.5h11.05v2h-11.05zM323.68 258.5h5.52v2h-5.52zM323.68 260.5h5.52v2h-5.52zM367.86 260.5h5.52v2h-5.52zM395.48 260.5h5.52v2h-5.52zM312.64 264.5h11.05v2h-11.05zM378.91 266.5h5.52v2h-5.52zM318.16 268.5h5.52v2h-5.52zM334.73 268.5h5.52v2h-5.52zM384.43 270.5h5.52v2h-5.52zM329.20 272.5h5.52v2h-5.52zM373.39 272.5h11.05v2h-11.05zM329.20 274.5h11.05v2h-11.05zM329.20 280.5h5.52v2h-5.52zM356.82 282.5h5.52v2h-5.52z"/>
<path fill="#f7cf84" d="M279.50 42.5h5.52v2h-5.52zM285.02 48.5h5.52v2h-5.52zM296.07 48.5h16.57v2h-16.57zM373.39 72.5h5.52v2h-5.52zM384.43 72.5h5.52v2h-5.52zM296.07 278.5h5.52v2h-5.52z"/>
<path fill="#f7ca7a" d="M296.07 42.5h5.52v2h-5.52zM378.91 72.5h5.52v2h-5.52z"/>
<path fill="#fcf7de" d="M312.64 42.5h5.52v2h-5.52zM356.82 42.5h5.52v2h-5.52zM323.68 46.5h5.52v2h-5.52zM351.30 46.5h11.05v2h-11.05zM318.16 48.5h11.05v2h-11.05zM345.77 48.5h5.52v2h-5.52zM312.64 56.5h5.52v2h-5.52zM312.64 58.5h5.52v2h-5.52zM323.68 58.5h5.52v2h-5.52zM312.64 60.5h5.52v2h-5.52zM351.30 62.5h11.05v2h-11.05zM356.82 66.5h5.52v2h-5.52zM362.34 70.5h5.52v2h-5.52zM356.82 74.5h5.52v2h-5.52zM329.20 88.5h5.52v2h-5.52zM345.77 88.5h11.05v2h-11.05zM351.30 94.5h5.52v2h-5.52zM318.16 100.5h5.52v2h-5.52zM329.20 100.5h5.52v2h-5.52zM312.64 102.5h5.52v2h-5.52zM345.77 102.5h5.52v2h-5.52zM318.16 104.5h5.52v2h-5.52zM329.20 106.5h11.05v2h-11.05zM318.16 108.5h11.05v2h-11.05zM334.73 108.5h5.52v2h-5.52zM351.30 110.5h5.52v2h-5.52zM345.77 120.5h5.52v2h-5.52zM312.64 132.5h16.57v2h-16.57zM329.20 134.5h11.05v2h-11.05zM351.30 134.5h5.52v2h-5.52zM329.20 136.5h5.52v2h-5.52zM345.77 138.5h5.52v2h-5.52zM312.64 140.5h16.57v2h-16.57zM334.73 140.5h5.52v2h-5.52zM345.77 140.5h5.52v2h-5.52zM318.16 142.5h5.52v2h-5.52zM329.20 142.5h5.52v2h-5.52zM318.16 144.5h5.52v2h-5.52zM334.73 144.5h11.05v2h-11.05zM351.30 144.5h11.05v2h-11.05zM329.20 146.5h5.52v2h-5.52zM356.82 146.5h5.52v2h-5.52zM367.86 146.5h5.52v2h-5.52zM351.30 148.5h5.52v2h-5.52zM362.34 148.5h5.52v2h-5.52zM329.20 154.5h5.52v2h-5.52zM362.34 154.5h5.52v2h-5.52zM356.82 156.5h5.52v2h-5.52zM312.64 158.5h5.52v2h-5.52zM329.20 158.5h5.52v2h-5.52zM340.25 158.5h5.52v2h-5.52zM351.30 158.5h16.57v2h-16.57zM312.64 160.5h5.52v2h-5.52zM323.68 160.5h5.52v2h-5.52zM367.86 160.5h5.52v2h-5.52zM329.20 162.5h11.05v2h-11.05zM334.73 164.5h16.57v2h-16.57zM334.73 166.5h5.52v2h-5.52zM334.73 168.5h5.52v2h-5.52zM356.82 168.5h5.52v2h-5.52zM345.77 172.5h5.52v2h-5.52zM318.16 174.5h5.52v2h-5.52zM329.20 174.5h5.52v2h-5.52zM351.30 174.5h5.52v2h-5.52zM329.20 176.5h5.52v2h-5.52zM340.25 176.5h11.05v2h-11.05zM351.30 178.5h5.52v2h-5.52zM384.43 188.5h5.52v2h-5.52zM367.86 190.5h5.52v2h-5.52zM384.43 192.5h5.52v2h-5.52zM367.86 194.5h5.52v2h-5.52zM373.39 196.5h5.52v2h-5.52zM384.43 196.5h5.52v2h-5.52zM312.64 198.5h11.05v2h-11.05zM384.43 198.5h5.52v2h-5.52zM389.95 200.5h11.05v2h-11.05zM323.68 206.5h5.52v2h-5.52zM318.16 210.5h5.52v2h-5.52zM389.95 212.5h11.05v2h-11.05zM323.68 224.5h5.52v2h-5.52zM384.43 224.5h5.52v2h-5.52zM373.39 226.5h11.05v2h-11.05zM312.64 230.5h11.05v2h-11.05zM356.82 230.5h5.52v2h-5.52zM367.86 232.5h5.52v2h-5.52zM373.39 234.5h5.52v2h-5.52zM373.39 242.5h5.52v2h-5.52zM384.43 242.5h5.52v2h-5.52zM395.48 242.5h5.52v2h-5.52zM378.91 244.5h5.52v2h-5.52zM312.64 256.5h5.52v2h-5.52zM367.86 258.5h5.52v2h-5.52zM318.16 262.5h5.52v2h-5.52zM389.95 262.5h5.52v2h-5.52zM367.86 266.5h5.52v2h-5.52zM367.86 268.5h5.52v2h-5.52zM312.64 270.5h5.52v2h-5.52zM362.34 270.5h5.52v2h-5.52zM312.64 272.5h5.52v2h-5.52zM351.30 272.5h5.52v2h-5.52zM362.34 272.5h5.52v2h-5.52zM312.64 280.5h5.52v2h-5.52zM362.34 280.5h5.52v2h-5.52z"/>
<path fill="#fcf7d9" d="M351.30 42.5h5.52v2h-5.52zM351.30 44.5h5.52v2h-5.52zM312.64 46.5h5.52v2h-5.52zM312.64 48.5h5.52v2h-5.52zM312.64 50.5h5.52v2h-5.52zM318.16 56.5h5.52v2h-5.52zM340.25 72.5h11.05v2h-11.05zM329.20 74.5h11.05v2h-11.05zM329.20 84.5h5.52v2h-5.52zM312.64 88.5h16.57v2h-16.57zM334.73 88.5h5.52v2h-5.52zM318.16 90.5h5.52v2h-5.52zM345.77 92.5h5.52v2h-5.52zM312.64 94.5h5.52v2h-5.52zM334.73 94.5h5.52v2h-5.52zM323.68 100.5h5.52v2h-5.52zM334.73 100.5h5.52v2h-5.52zM345.77 100.5h22.09v2h-22.09zM312.64 104.5h5.52v2h-5.52zM334.73 104.5h5.52v2h-5.52zM345.77 104.5h11.05v2h-11.05zM351.30 106.5h11.05v2h-11.05zM345.77 108.5h5.52v2h-5.52zM334.73 110.5h16.57v2h-16.57zM356.82 110.5h5.52v2h-5.52zM334.73 114.5h5.52v2h-5.52zM362.34 114.5h5.52v2h-5.52zM318.16 120.5h5.52v2h-5.52zM334.73 120.5h11.05v2h-11.05zM351.30 126.5h5.52v2h-5.52zM345.77 128.5h22.09v2h-22.09zM345.77 130.5h5.52v2h-5.52zM356.82 130.5h11.05v2h-11.05zM356.82 134.5h5.52v2h-5.52zM318.16 136.5h11.05v2h-11.05zM334.73 138.5h5.52v2h-5.52zM329.20 140.5h5.52v2h-5.52zM323.68 142.5h5.52v2h-5.52zM312.64 144.5h5.52v2h-5.52zM323.68 144.5h11.05v2h-11.05zM345.77 144.5h5.52v2h-5.52zM362.34 144.5h5.52v2h-5.52zM318.16 148.5h5.52v2h-5.52zM334.73 154.5h22.09v2h-22.09zM367.86 154.5h5.52v2h-5.52zM351.30 156.5h5.52v2h-5.52zM367.86 156.5h5.52v2h-5.52zM318.16 158.5h11.05v2h-11.05zM318.16 160.5h5.52v2h-5.52zM318.16 162.5h5.52v2h-5.52zM340.25 162.5h11.05v2h-11.05zM351.30 164.5h5.52v2h-5.52zM362.34 164.5h5.52v2h-5.52zM340.25 166.5h5.52v2h-5.52zM329.20 168.5h5.52v2h-5.52zM345.77 168.5h5.52v2h-5.52zM334.73 172.5h5.52v2h-5.52zM351.30 172.5h16.57v2h-16.57zM356.82 174.5h11.05v2h-11.05zM334.73 176.5h5.52v2h-5.52zM351.30 176.5h11.05v2h-11.05zM345.77 178.5h5.52v2h-5.52zM318.16 180.5h5.52v2h-5.52zM351.30 180.5h22.09v2h-22.09zM367.86 186.5h5.52v2h-5.52zM367.86 188.5h5.52v2h-5.52zM312.64 190.5h11.05v2h-11.05zM378.91 190.5h5.52v2h-5.52zM312.64 192.5h16.57v2h-16.57zM378.91 192.5h5.52v2h-5.52zM318.16 196.5h11.05v2h-11.05zM367.86 198.5h5.52v2h-5.52zM389.95 198.5h5.52v2h-5.52zM351.30 200.5h5.52v2h-5.52zM312.64 206.5h5.52v2h-5.52zM351.30 206.5h5.52v2h-5.52zM395.48 208.5h5.52v2h-5.52zM373.39 224.5h5.52v2h-5.52zM356.82 226.5h11.05v2h-11.05zM384.43 226.5h5.52v2h-5.52zM334.73 230.5h11.05v2h-11.05zM351.30 230.5h5.52v2h-5.52zM312.64 232.5h11.05v2h-11.05zM312.64 234.5h5.52v2h-5.52zM367.86 234.5h5.52v2h-5.52zM323.68 242.5h5.52v2h-5.52zM378.91 242.5h5.52v2h-5.52zM373.39 246.5h5.52v2h-5.52zM367.86 250.5h5.52v2h-5.52zM318.16 254.5h5.52v2h-5.52zM351.30 254.5h5.52v2h-5.52zM362.34 254.5h5.52v2h-5.52zM378.91 260.5h5.52v2h-5.52zM312.64 262.5h5.52v2h-5.52zM323.68 262.5h5.52v2h-5.52zM351.30 262.5h5.52v2h-5.52zM373.39 262.5h5.52v2h-5.52zM395.48 262.5h5.52v2h-5.52zM356.82 264.5h5.52v2h-5.52zM389.95 264.5h5.52v2h-5.52zM384.43 268.5h11.05v2h-11.05zM356.82 274.5h11.05v2h-11.05zM318.16 276.5h5.52v2h-5.52zM318.16 278.5h5.52v2h-5.52zM323.68 280.5h5.52v2h-5.52z"/>
<path fill="#d4e8f2" d="M373.39 42.5h5.52v2h-5.52zM279.50 132.5h5.52v2h-5.52zM307.11 132.5h5.52v2h-5.52zM307.11 166.5h5.52v2h-5.52zM307.11 170.5h5.52v2h-5.52zM290.55 174.5h5.52v2h-5.52zM307.11 176.5h5.52v2h-5.52zM279.50 180.5h11.05v2h-11.05zM290.55 206.5h5.52v2h-5.52zM290.55 208.5h5.52v2h-5.52zM301.59 210.5h5.52v2h-5.52zM290.55 212.5h11.05v2h-11.05zM307.11 214.5h5.52v2h-5.52zM279.50 228.5h5.52v2h-5.52zM285.02 232.5h5.52v2h-5.52zM301.59 246.5h11.05v2h-11.05zM279.50 248.5h5.52v2h-5.52zM301.59 250.5h5.52v2h-5.52zM285.02 272.5h5.52v2h-5.52z"/>
<path fill="#d9e8f2" d="M384.43 42.5h5.52v2h-5.52zM307.11 216.5h5.52v2h-5.52zM307.11 250.5h5.52v2h-5.52zM279.50 274.5h5.52v2h-5.52z"/>
<path fill="#fce39d" d="M279.50 46.5h5.52v2h-5.52zM285.02 52.5h5.52v2h-5.52zM296.07 52.5h11.05v2h-11.05zM307.11 56.5h5.52v2h-5.52zM307.11 62.5h5.52v2h-5.52zM296.07 64.5h5.52v2h-5.52zM307.11 66.5h5.52v2h-5.52zM367.86 84.5h16.57v2h-16.57zM389.95 88.5h11.05v2h-11.05zM384.43 96.5h5.52v2h-5.52zM395.48 96.5h5.52v2h-5.52zM367.86 98.5h5.52v2h-5.52zM395.48 104.5h5.52v2h-5.52zM395.48 122.5h5.52v2h-5.52zM351.30 186.5h5.52v2h-5.52zM345.77 190.5h5.52v2h-5.52zM334.73 192.5h5.52v2h-5.52zM334.73 194.5h5.52v2h-5.52zM345.77 202.5h5.52v2h-5.52zM340.25 210.5h5.52v2h-5.52zM329.20 222.5h5.52v2h-5.52zM340.25 264.5h5.52v2h-5.52zM301.59 270.5h5.52v2h-5.52zM296.07 274.5h5.52v2h-5.52zM378.91 278.5h5.52v2h-5.52z"/>
<path fill="#fce3a2" d="M285.02 46.5h11.05v2h-11.05zM290.55 52.5h5.52v2h-5.52zM296.07 60.5h5.52v2h-5.52zM307.11 64.5h5.52v2h-5.52zM296.07 66.5h5.52v2h-5.52zM367.86 78.5h5.52v2h-5.52zM367.86 80.5h5.52v2h-5.52zM373.39 82.5h5.52v2h-5.52zM384.43 82.5h5.52v2h-5.52zM389.95 84.5h11.05v2h-11.05zM367.86 90.5h5.52v2h-5.52zM389.95 90.5h5.52v2h-5.52zM389.95 94.5h11.05v2h-11.05zM373.39 96.5h5.52v2h-5.52zM395.48 114.5h5.52v2h-5.52zM389.95 122.5h5.52v2h-5.52zM367.86 124.5h5.52v2h-5.52zM389.95 126.5h5.52v2h-5.52zM378.91 128.5h11.05v2h-11.05zM373.39 138.5h16.57v2h-16.57zM389.95 182.5h5.52v2h-5.52zM362.34 186.5h5.52v2h-5.52zM334.73 190.5h5.52v2h-5.52zM334.73 198.5h5.52v2h-5.52zM340.25 202.5h5.52v2h-5.52zM334.73 210.5h5.52v2h-5.52zM345.77 210.5h5.52v2h-5.52zM340.25 222.5h5.52v2h-5.52zM345.77 260.5h5.52v2h-5.52zM373.39 282.5h11.05v2h-11.05z"/>
<path fill="#fce8b1" d="M296.07 46.5h5.52v2h-5.52zM285.02 64.5h11.05v2h-11.05zM279.50 66.5h16.57v2h-16.57zM367.86 88.5h5.52v2h-5.52zM373.39 90.5h16.57v2h-16.57zM395.48 92.5h5.52v2h-5.52zM362.34 96.5h11.05v2h-11.05zM373.39 102.5h5.52v2h-5.52zM389.95 102.5h5.52v2h-5.52zM373.39 104.5h5.52v2h-5.52zM389.95 106.5h5.52v2h-5.52zM373.39 110.5h5.52v2h-5.52zM389.95 110.5h5.52v2h-5.52zM373.39 114.5h16.57v2h-16.57zM395.48 120.5h5.52v2h-5.52zM378.91 122.5h11.05v2h-11.05zM389.95 124.5h5.52v2h-5.52zM367.86 126.5h5.52v2h-5.52zM378.91 126.5h5.52v2h-5.52zM378.91 130.5h5.52v2h-5.52zM389.95 140.5h5.52v2h-5.52zM389.95 150.5h5.52v2h-5.52zM389.95 154.5h5.52v2h-5.52zM312.64 182.5h11.05v2h-11.05zM373.39 182.5h5.52v2h-5.52zM389.95 184.5h11.05v2h-11.05zM356.82 186.5h5.52v2h-5.52zM395.48 186.5h5.52v2h-5.52zM329.20 190.5h5.52v2h-5.52zM351.30 190.5h5.52v2h-5.52zM340.25 198.5h5.52v2h-5.52zM345.77 200.5h5.52v2h-5.52zM334.73 214.5h11.05v2h-11.05zM329.20 216.5h5.52v2h-5.52zM329.20 218.5h5.52v2h-5.52zM351.30 222.5h5.52v2h-5.52zM318.16 228.5h5.52v2h-5.52zM340.25 228.5h5.52v2h-5.52zM334.73 236.5h16.57v2h-16.57zM334.73 238.5h5.52v2h-5.52zM334.73 240.5h5.52v2h-5.52zM345.77 240.5h5.52v2h-5.52zM356.82 240.5h5.52v2h-5.52zM323.68 246.5h5.52v2h-5.52zM340.25 248.5h5.52v2h-5.52zM345.77 252.5h5.52v2h-5.52zM345.77 258.5h5.52v2h-5.52zM329.20 260.5h5.52v2h-5.52zM345.77 264.5h5.52v2h-5.52zM329.20 266.5h11.05v2h-11.05zM340.25 272.5h5.52v2h-5.52zM334.73 276.5h5.52v2h-5.52zM378.91 276.5h5.52v2h-5.52zM334.73 278.5h11.05v2h-11.05zM340.25 280.5h5.52v2h-5.52zM334.73 282.5h5.52v2h-5.52z"/>
<path fill="#fce3a7" d="M301.59 46.5h5.52v2h-5.52zM296.07 50.5h5.52v2h-5.52zM279.50 60.5h5.52v2h-5.52zM279.50 62.5h5.52v2h-5.52zM301.59 62.5h5.52v2h-5.52zM389.95 80.5h5.52v2h-5.52zM395.48 110.5h5.52v2h-5.52zM395.48 128.5h5.52v2h-5.52zM384.43 182.5h5.52v2h-5.52zM340.25 204.5h5.52v2h-5.52zM334.73 222.5h5.52v2h-5.52zM296.07 270.5h5.52v2h-5.52zM345.77 278.5h5.52v2h-5.52zM373.39 278.5h5.52v2h-5.52z"/>
<path fill="#fce8ac" d="M307.11 46.5h5.52v2h-5.52zM285.02 60.5h11.05v2h-11.05zM378.91 82.5h5.52v2h-5.52zM340.25 86.5h5.52v2h-5.52zM389.95 92.5h5.52v2h-5.52zM367.86 94.5h5.52v2h-5.52zM378.91 96.5h5.52v2h-5.52zM367.86 102.5h5.52v2h-5.52zM395.48 102.5h5.52v2h-5.52zM378.91 104.5h11.05v2h-11.05zM367.86 106.5h5.52v2h-5.52zM384.43 106.5h5.52v2h-5.52zM384.43 108.5h5.52v2h-5.52zM384.43 110.5h5.52v2h-5.52zM389.95 114.5h5.52v2h-5.52zM367.86 118.5h5.52v2h-5.52zM395.48 118.5h5.52v2h-5.52zM378.91 120.5h16.57v2h-16.57zM373.39 122.5h5.52v2h-5.52zM395.48 124.5h5.52v2h-5.52zM373.39 126.5h5.52v2h-5.52zM384.43 126.5h5.52v2h-5.52zM373.39 128.5h5.52v2h-5.52zM373.39 130.5h5.52v2h-5.52zM389.95 134.5h11.05v2h-11.05zM395.48 138.5h5.52v2h-5.52zM373.39 144.5h11.05v2h-11.05zM378.91 182.5h5.52v2h-5.52zM395.48 182.5h5.52v2h-5.52zM345.77 188.5h5.52v2h-5.52zM329.20 198.5h5.52v2h-5.52zM362.34 214.5h5.52v2h-5.52zM334.73 218.5h27.61v2h-27.61zM351.30 220.5h11.05v2h-11.05zM345.77 222.5h5.52v2h-5.52zM356.82 222.5h11.05v2h-11.05zM312.64 228.5h5.52v2h-5.52zM329.20 236.5h5.52v2h-5.52zM334.73 252.5h5.52v2h-5.52zM334.73 258.5h5.52v2h-5.52zM334.73 260.5h11.05v2h-11.05zM334.73 264.5h5.52v2h-5.52zM340.25 266.5h11.05v2h-11.05zM373.39 276.5h5.52v2h-5.52zM384.43 276.5h5.52v2h-5.52zM384.43 278.5h5.52v2h-5.52zM378.91 280.5h5.52v2h-5.52zM329.20 282.5h5.52v2h-5.52zM340.25 282.5h5.52v2h-5.52zM384.43 282.5h5.52v2h-5.52z"/>
<path fill="#fcde98" d="M285.02 50.5h5.52v2h-5.52zM301.59 50.5h11.05v2h-11.05zM279.50 54.5h5.52v2h-5.52zM279.50 56.5h11.05v2h-11.05zM296.07 56.5h5.52v2h-5.52zM296.07 58.5h5.52v2h-5.52zM307.11 58.5h5.52v2h-5.52zM301.59 60.5h11.05v2h-11.05zM285.02 62.5h5.52v2h-5.52zM285.02 68.5h11.05v2h-11.05zM279.50 70.5h5.52v2h-5.52zM290.55 70.5h5.52v2h-5.52zM307.11 70.5h5.52v2h-5.52zM367.86 74.5h5.52v2h-5.52zM378.91 78.5h5.52v2h-5.52zM384.43 84.5h5.52v2h-5.52zM373.39 88.5h16.57v2h-16.57zM395.48 90.5h5.52v2h-5.52zM389.95 96.5h5.52v2h-5.52zM378.91 98.5h5.52v2h-5.52zM389.95 98.5h11.05v2h-11.05zM389.95 104.5h5.52v2h-5.52zM367.86 112.5h5.52v2h-5.52zM384.43 112.5h5.52v2h-5.52zM373.39 116.5h16.57v2h-16.57zM373.39 118.5h5.52v2h-5.52zM378.91 124.5h11.05v2h-11.05zM395.48 152.5h5.52v2h-5.52zM329.20 186.5h5.52v2h-5.52zM345.77 186.5h5.52v2h-5.52zM329.20 192.5h5.52v2h-5.52zM340.25 192.5h5.52v2h-5.52zM329.20 194.5h5.52v2h-5.52zM340.25 196.5h11.05v2h-11.05zM329.20 204.5h11.05v2h-11.05zM345.77 204.5h5.52v2h-5.52zM329.20 210.5h5.52v2h-5.52zM334.73 220.5h16.57v2h-16.57zM301.59 274.5h5.52v2h-5.52zM296.07 282.5h5.52v2h-5.52z"/>
<path fill="#fcf7d4" d="M318.16 50.5h11.05v2h-11.05zM362.34 50.5h5.52v2h-5.52zM312.64 54.5h16.57v2h-16.57zM362.34 56.5h5.52v2h-5.52zM318.16 58.5h5.52v2h-5.52zM329.20 72.5h11.05v2h-11.05zM312.64 74.5h11.05v2h-11.05zM312.64 76.5h11.05v2h-11.05zM340.25 76.5h11.05v2h-11.05zM312.64 78.5h5.52v2h-5.52zM340.25 78.5h5.52v2h-5.52zM351.30 78.5h5.52v2h-5.52zM329.20 80.5h5.52v2h-5.52zM362.34 80.5h5.52v2h-5.52zM334.73 84.5h5.52v2h-5.52zM340.25 88.5h5.52v2h-5.52zM318.16 92.5h16.57v2h-16.57zM340.25 92.5h5.52v2h-5.52zM351.30 92.5h16.57v2h-16.57zM318.16 94.5h11.05v2h-11.05zM356.82 94.5h11.05v2h-11.05zM312.64 100.5h5.52v2h-5.52zM334.73 102.5h5.52v2h-5.52zM351.30 102.5h5.52v2h-5.52zM329.20 104.5h5.52v2h-5.52zM340.25 104.5h5.52v2h-5.52zM356.82 104.5h5.52v2h-5.52zM340.25 106.5h11.05v2h-11.05zM362.34 106.5h5.52v2h-5.52zM312.64 108.5h5.52v2h-5.52zM329.20 110.5h5.52v2h-5.52zM362.34 110.5h5.52v2h-5.52zM329.20 114.5h5.52v2h-5.52zM345.77 114.5h11.05v2h-11.05zM334.73 116.5h5.52v2h-5.52zM345.77 116.5h5.52v2h-5.52zM323.68 120.5h11.05v2h-11.05zM362.34 120.5h5.52v2h-5.52zM323.68 122.5h5.52v2h-5.52zM351.30 122.5h5.52v2h-5.52zM362.34 122.5h5.52v2h-5.52zM312.64 124.5h11.05v2h-11.05zM340.25 126.5h5.52v2h-5.52zM356.82 126.5h5.52v2h-5.52zM329.20 128.5h5.52v2h-5.52zM340.25 128.5h5.52v2h-5.52zM312.64 130.5h16.57v2h-16.57zM334.73 130.5h5.52v2h-5.52zM351.30 130.5h5.52v2h-5.52zM367.86 132.5h5.52v2h-5.52zM323.68 134.5h5.52v2h-5.52zM340.25 134.5h11.05v2h-11.05zM362.34 134.5h5.52v2h-5.52zM367.86 136.5h5.52v2h-5.52zM389.95 136.5h5.52v2h-5.52zM329.20 138.5h5.52v2h-5.52zM340.25 138.5h5.52v2h-5.52zM351.30 138.5h5.52v2h-5.52zM362.34 140.5h5.52v2h-5.52zM367.86 142.5h5.52v2h-5.52zM323.68 150.5h5.52v2h-5.52zM312.64 154.5h11.05v2h-11.05zM395.48 156.5h5.52v2h-5.52zM389.95 160.5h5.52v2h-5.52zM312.64 162.5h5.52v2h-5.52zM323.68 162.5h5.52v2h-5.52zM367.86 162.5h5.52v2h-5.52zM356.82 164.5h5.52v2h-5.52zM329.20 166.5h5.52v2h-5.52zM312.64 168.5h5.52v2h-5.52zM323.68 168.5h5.52v2h-5.52zM340.25 168.5h5.52v2h-5.52zM373.39 168.5h5.52v2h-5.52zM384.43 168.5h5.52v2h-5.52zM345.77 170.5h5.52v2h-5.52zM356.82 170.5h5.52v2h-5.52zM340.25 172.5h5.52v2h-5.52zM367.86 172.5h5.52v2h-5.52zM312.64 174.5h5.52v2h-5.52zM323.68 174.5h5.52v2h-5.52zM395.48 174.5h5.52v2h-5.52zM362.34 176.5h5.52v2h-5.52zM329.20 178.5h5.52v2h-5.52zM340.25 178.5h5.52v2h-5.52zM356.82 178.5h5.52v2h-5.52zM367.86 178.5h5.52v2h-5.52zM384.43 178.5h5.52v2h-5.52zM312.64 180.5h5.52v2h-5.52zM373.39 184.5h5.52v2h-5.52zM373.39 186.5h5.52v2h-5.52zM318.16 188.5h5.52v2h-5.52zM389.95 188.5h5.52v2h-5.52zM373.39 190.5h5.52v2h-5.52zM312.64 194.5h5.52v2h-5.52zM323.68 194.5h5.52v2h-5.52zM384.43 194.5h5.52v2h-5.52zM356.82 198.5h5.52v2h-5.52zM395.48 198.5h5.52v2h-5.52zM323.68 200.5h5.52v2h-5.52zM356.82 200.5h11.05v2h-11.05zM312.64 202.5h5.52v2h-5.52zM323.68 202.5h5.52v2h-5.52zM373.39 202.5h5.52v2h-5.52zM351.30 204.5h5.52v2h-5.52zM351.30 208.5h5.52v2h-5.52zM312.64 216.5h16.57v2h-16.57zM318.16 224.5h5.52v2h-5.52zM351.30 226.5h5.52v2h-5.52zM373.39 228.5h16.57v2h-16.57zM329.20 230.5h5.52v2h-5.52zM345.77 230.5h5.52v2h-5.52zM323.68 232.5h5.52v2h-5.52zM373.39 232.5h27.61v2h-27.61zM323.68 234.5h5.52v2h-5.52zM351.30 234.5h5.52v2h-5.52zM362.34 234.5h5.52v2h-5.52zM318.16 242.5h5.52v2h-5.52zM356.82 242.5h11.05v2h-11.05zM373.39 244.5h5.52v2h-5.52zM384.43 244.5h11.05v2h-11.05zM367.86 246.5h5.52v2h-5.52zM384.43 246.5h5.52v2h-5.52zM323.68 248.5h5.52v2h-5.52zM367.86 248.5h5.52v2h-5.52zM362.34 252.5h5.52v2h-5.52zM312.64 254.5h5.52v2h-5.52zM323.68 254.5h5.52v2h-5.52zM367.86 254.5h5.52v2h-5.52zM389.95 254.5h5.52v2h-5.52zM329.20 256.5h5.52v2h-5.52zM389.95 256.5h5.52v2h-5.52zM312.64 258.5h5.52v2h-5.52zM340.25 262.5h5.52v2h-5.52zM356.82 262.5h11.05v2h-11.05zM378.91 262.5h11.05v2h-11.05zM395.48 264.5h5.52v2h-5.52zM362.34 268.5h5.52v2h-5.52zM395.48 268.5h5.52v2h-5.52zM356.82 270.5h5.52v2h-5.52zM312.64 276.5h5.52v2h-5.52zM351.30 276.5h5.52v2h-5.52zM312.64 278.5h5.52v2h-5.52zM318.16 280.5h5.52v2h-5.52zM351.30 280.5h5.52v2h-5.52zM312.64 282.5h16.57v2h-16.57z"/>
<path fill="#fcf7cf" d="M356.82 50.5h5.52v2h-5.52zM351.30 56.5h5.52v2h-5.52zM323.68 74.5h5.52v2h-5.52zM345.77 74.5h5.52v2h-5.52zM323.68 78.5h5.52v2h-5.52zM334.73 80.5h5.52v2h-5.52zM345.77 80.5h5.52v2h-5.52zM318.16 82.5h5.52v2h-5.52zM345.77 84.5h11.05v2h-11.05zM362.34 84.5h5.52v2h-5.52zM312.64 90.5h5.52v2h-5.52zM323.68 90.5h5.52v2h-5.52zM351.30 90.5h5.52v2h-5.52zM334.73 92.5h5.52v2h-5.52zM340.25 94.5h5.52v2h-5.52zM329.20 102.5h5.52v2h-5.52zM323.68 104.5h5.52v2h-5.52zM323.68 110.5h5.52v2h-5.52zM323.68 114.5h5.52v2h-5.52zM356.82 114.5h5.52v2h-5.52zM318.16 116.5h5.52v2h-5.52zM340.25 116.5h5.52v2h-5.52zM312.64 120.5h5.52v2h-5.52zM351.30 120.5h5.52v2h-5.52zM356.82 122.5h5.52v2h-5.52zM362.34 126.5h5.52v2h-5.52zM334.73 128.5h5.52v2h-5.52zM395.48 136.5h5.52v2h-5.52zM367.86 144.5h5.52v2h-5.52zM367.86 148.5h5.52v2h-5.52zM334.73 150.5h11.05v2h-11.05zM367.86 150.5h5.52v2h-5.52zM323.68 154.5h5.52v2h-5.52zM367.86 158.5h5.52v2h-5.52zM384.43 164.5h5.52v2h-5.52zM345.77 166.5h5.52v2h-5.52zM367.86 166.5h5.52v2h-5.52zM378.91 168.5h5.52v2h-5.52zM389.95 168.5h11.05v2h-11.05zM329.20 170.5h5.52v2h-5.52zM367.86 170.5h5.52v2h-5.52zM329.20 172.5h5.52v2h-5.52zM323.68 178.5h5.52v2h-5.52zM384.43 186.5h5.52v2h-5.52zM323.68 188.5h5.52v2h-5.52zM378.91 194.5h5.52v2h-5.52zM312.64 196.5h5.52v2h-5.52zM312.64 200.5h5.52v2h-5.52zM384.43 204.5h5.52v2h-5.52zM389.95 206.5h5.52v2h-5.52zM362.34 208.5h5.52v2h-5.52zM395.48 210.5h5.52v2h-5.52zM351.30 212.5h5.52v2h-5.52zM312.64 218.5h5.52v2h-5.52zM312.64 224.5h5.52v2h-5.52zM334.73 224.5h5.52v2h-5.52zM367.86 228.5h5.52v2h-5.52zM389.95 228.5h5.52v2h-5.52zM351.30 232.5h5.52v2h-5.52zM362.34 232.5h5.52v2h-5.52zM367.86 238.5h5.52v2h-5.52zM378.91 238.5h5.52v2h-5.52zM323.68 240.5h5.52v2h-5.52zM329.20 242.5h5.52v2h-5.52zM351.30 242.5h5.52v2h-5.52zM318.16 248.5h5.52v2h-5.52zM378.91 248.5h5.52v2h-5.52zM367.86 252.5h5.52v2h-5.52zM356.82 254.5h5.52v2h-5.52zM395.48 254.5h5.52v2h-5.52zM345.77 256.5h5.52v2h-5.52zM373.39 258.5h5.52v2h-5.52zM384.43 260.5h5.52v2h-5.52zM373.39 264.5h11.05v2h-11.05zM373.39 274.5h5.52v2h-5.52zM323.68 276.5h5.52v2h-5.52zM356.82 276.5h11.05v2h-11.05zM323.68 278.5h5.52v2h-5.52z"/>
<path fill="#fcde9d" d="M279.50 52.5h5.52v2h-5.52zM279.50 68.5h5.52v2h-5.52zM301.59 70.5h5.52v2h-5.52zM373.39 78.5h5.52v2h-5.52zM395.48 82.5h5.52v2h-5.52zM389.95 116.5h5.52v2h-5.52zM378.91 118.5h11.05v2h-11.05zM373.39 124.5h5.52v2h-5.52zM389.95 152.5h5.52v2h-5.52zM334.73 196.5h5.52v2h-5.52zM329.20 220.5h5.52v2h-5.52zM307.11 274.5h5.52v2h-5.52z"/>
<path fill="#fcd998" d="M307.11 52.5h5.52v2h-5.52zM329.20 202.5h5.52v2h-5.52z"/>
<path fill="#f2f2e8" d="M340.25 52.5h5.52v2h-5.52zM334.73 60.5h5.52v2h-5.52zM367.86 222.5h5.52v2h-5.52zM285.02 278.5h5.52v2h-5.52z"/>
<path fill="#fcedc0" d="M356.82 54.5h5.52v2h-5.52zM345.77 82.5h5.52v2h-5.52zM356.82 82.5h5.52v2h-5.52zM318.16 86.5h5.52v2h-5.52zM362.34 86.5h5.52v2h-5.52zM373.39 94.5h11.05v2h-11.05zM356.82 96.5h5.52v2h-5.52zM312.64 98.5h5.52v2h-5.52zM334.73 98.5h5.52v2h-5.52zM389.95 108.5h5.52v2h-5.52zM318.16 112.5h11.05v2h-11.05zM318.16 118.5h5.52v2h-5.52zM340.25 118.5h11.05v2h-11.05zM373.39 132.5h11.05v2h-11.05zM367.86 138.5h5.52v2h-5.52zM367.86 152.5h5.52v2h-5.52zM384.43 156.5h5.52v2h-5.52zM312.64 172.5h5.52v2h-5.52zM345.77 182.5h5.52v2h-5.52zM362.34 184.5h5.52v2h-5.52zM395.48 188.5h5.52v2h-5.52zM395.48 192.5h5.52v2h-5.52zM351.30 196.5h5.52v2h-5.52zM395.48 204.5h5.52v2h-5.52zM334.73 216.5h5.52v2h-5.52zM356.82 216.5h11.05v2h-11.05zM351.30 224.5h5.52v2h-5.52zM351.30 228.5h5.52v2h-5.52zM389.95 236.5h5.52v2h-5.52zM340.25 246.5h5.52v2h-5.52zM351.30 258.5h5.52v2h-5.52zM362.34 260.5h5.52v2h-5.52zM323.68 266.5h5.52v2h-5.52zM345.77 268.5h5.52v2h-5.52zM378.91 270.5h5.52v2h-5.52zM334.73 272.5h5.52v2h-5.52z"/>
<path fill="#fcd993" d="M301.59 56.5h5.52v2h-5.52zM279.50 58.5h5.52v2h-5.52zM301.59 66.5h5.52v2h-5.52zM307.11 68.5h5.52v2h-5.52zM285.02 70.5h5.52v2h-5.52zM296.07 70.5h5.52v2h-5.52zM395.48 78.5h5.52v2h-5.52zM384.43 80.5h5.52v2h-5.52zM395.48 80.5h5.52v2h-5.52zM389.95 82.5h5.52v2h-5.52zM373.39 98.5h5.52v2h-5.52zM384.43 98.5h5.52v2h-5.52zM340.25 194.5h5.52v2h-5.52z"/>
<path fill="#f7d98e" d="M285.02 58.5h11.05v2h-11.05zM373.39 112.5h5.52v2h-5.52zM389.95 112.5h5.52v2h-5.52zM334.73 184.5h5.52v2h-5.52zM334.73 186.5h5.52v2h-5.52zM307.11 282.5h5.52v2h-5.52z"/>
<path fill="#fce8a7" d="M290.55 62.5h11.05v2h-11.05zM378.91 108.5h5.52v2h-5.52zM395.48 116.5h5.52v2h-5.52zM389.95 118.5h5.52v2h-5.52zM373.39 120.5h5.52v2h-5.52zM367.86 122.5h5.52v2h-5.52zM395.48 126.5h5.52v2h-5.52zM389.95 128.5h5.52v2h-5.52zM389.95 144.5h5.52v2h-5.52zM340.25 190.5h5.52v2h-5.52zM334.73 200.5h11.05v2h-11.05zM329.20 214.5h5.52v2h-5.52zM345.77 238.5h5.52v2h-5.52zM329.20 264.5h5.52v2h-5.52zM329.20 278.5h5.52v2h-5.52zM373.39 280.5h5.52v2h-5.52zM384.43 280.5h5.52v2h-5.52zM345.77 282.5h5.52v2h-5.52z"/>
<path fill="#fcedb6" d="M279.50 64.5h5.52v2h-5.52zM301.59 64.5h5.52v2h-5.52zM312.64 86.5h5.52v2h-5.52zM356.82 86.5h5.52v2h-5.52zM367.86 92.5h5.52v2h-5.52zM378.91 92.5h11.05v2h-11.05zM384.43 94.5h5.52v2h-5.52zM334.73 96.5h5.52v2h-5.52zM318.16 98.5h5.52v2h-5.52zM389.95 100.5h5.52v2h-5.52zM378.91 102.5h11.05v2h-11.05zM373.39 106.5h11.05v2h-11.05zM395.48 106.5h5.52v2h-5.52zM373.39 108.5h5.52v2h-5.52zM367.86 110.5h5.52v2h-5.52zM378.91 110.5h5.52v2h-5.52zM329.20 112.5h16.57v2h-16.57zM367.86 114.5h5.52v2h-5.52zM367.86 128.5h5.52v2h-5.52zM389.95 130.5h11.05v2h-11.05zM395.48 140.5h5.52v2h-5.52zM384.43 144.5h5.52v2h-5.52zM395.48 144.5h5.52v2h-5.52zM378.91 148.5h5.52v2h-5.52zM373.39 150.5h5.52v2h-5.52zM384.43 150.5h5.52v2h-5.52zM395.48 150.5h5.52v2h-5.52zM384.43 152.5h5.52v2h-5.52zM378.91 154.5h5.52v2h-5.52zM373.39 162.5h5.52v2h-5.52zM384.43 166.5h5.52v2h-5.52zM373.39 170.5h11.05v2h-11.05zM318.16 172.5h5.52v2h-5.52zM323.68 182.5h5.52v2h-5.52zM340.25 188.5h5.52v2h-5.52zM356.82 188.5h5.52v2h-5.52zM345.77 198.5h5.52v2h-5.52zM351.30 202.5h5.52v2h-5.52zM329.20 206.5h5.52v2h-5.52zM345.77 206.5h5.52v2h-5.52zM340.25 208.5h5.52v2h-5.52zM351.30 214.5h11.05v2h-11.05zM340.25 216.5h5.52v2h-5.52zM351.30 216.5h5.52v2h-5.52zM323.68 228.5h16.57v2h-16.57zM312.64 236.5h11.05v2h-11.05zM378.91 236.5h5.52v2h-5.52zM395.48 236.5h5.52v2h-5.52zM329.20 238.5h5.52v2h-5.52zM362.34 238.5h5.52v2h-5.52zM362.34 240.5h5.52v2h-5.52zM389.95 240.5h5.52v2h-5.52zM334.73 246.5h5.52v2h-5.52zM345.77 246.5h11.05v2h-11.05zM334.73 248.5h5.52v2h-5.52zM345.77 248.5h5.52v2h-5.52zM329.20 250.5h5.52v2h-5.52zM340.25 250.5h5.52v2h-5.52zM329.20 252.5h5.52v2h-5.52zM340.25 252.5h5.52v2h-5.52zM329.20 258.5h5.52v2h-5.52zM340.25 258.5h5.52v2h-5.52zM351.30 260.5h11.05v2h-11.05zM340.25 268.5h5.52v2h-5.52zM334.73 270.5h5.52v2h-5.52zM301.59 272.5h11.05v2h-11.05zM329.20 276.5h5.52v2h-5.52zM340.25 276.5h11.05v2h-11.05zM351.30 278.5h5.52v2h-5.52zM334.73 280.5h5.52v2h-5.52z"/>
<path fill="#98bbde" d="M279.50 72.5h11.05v2h-11.05zM290.55 74.5h5.52v2h-5.52zM296.07 76.5h5.52v2h-5.52zM307.11 76.5h5.52v2h-5.52zM307.11 84.5h5.52v2h-5.52zM301.59 88.5h5.52v2h-5.52zM301.59 90.5h5.52v2h-5.52zM301.59 186.5h5.52v2h-5.52zM285.02 190.5h5.52v2h-5.52zM301.59 192.5h5.52v2h-5.52zM285.02 202.5h5.52v2h-5.52zM301.59 202.5h5.52v2h-5.52zM279.50 204.5h5.52v2h-5.52z"/>
<path fill="#98b6de" d="M290.55 72.5h5.52v2h-5.52zM296.07 78.5h5.52v2h-5.52zM307.11 184.5h5.52v2h-5.52zM285.02 186.5h11.05v2h-11.05zM307.11 186.5h5.52v2h-5.52zM296.07 188.5h5.52v2h-5.52zM290.55 192.5h5.52v2h-5.52zM279.50 194.5h5.52v2h-5.52zM279.50 198.5h5.52v2h-5.52zM301.59 204.5h11.05v2h-11.05z"/>
<path fill="#7098ca" d="M296.07 72.5h5.52v2h-5.52z"/>
<path fill="#7fa2d4" d="M301.59 72.5h11.05v2h-11.05zM307.11 74.5h5.52v2h-5.52zM301.59 190.5h5.52v2h-5.52z"/>
<path fill="#f7c57a" d="M395.48 72.5h5.52v2h-5.52z"/>
<path fill="#9dbbde" d="M279.50 74.5h5.52v2h-5.52zM301.59 78.5h5.52v2h-5.52zM296.07 80.5h5.52v2h-5.52zM307.11 80.5h5.52v2h-5.52zM296.07 84.5h11.05v2h-11.05zM296.07 186.5h5.52v2h-5.52zM296.07 192.5h5.52v2h-5.52zM307.11 192.5h5.52v2h-5.52zM285.02 194.5h11.05v2h-11.05zM279.50 202.5h5.52v2h-5.52zM290.55 202.5h5.52v2h-5.52zM285.02 204.5h5.52v2h-5.52z"/>
<path fill="#93b6d9" d="M285.02 74.5h5.52v2h-5.52zM301.59 76.5h5.52v2h-5.52zM307.11 188.5h5.52v2h-5.52zM290.55 190.5h5.52v2h-5.52zM307.11 194.5h5.52v2h-5.52zM285.02 198.5h11.05v2h-11.05z"/>
<path fill="#89acd9" d="M296.07 74.5h5.52v2h-5.52zM279.50 186.5h5.52v2h-5.52zM279.50 188.5h11.05v2h-11.05zM301.59 188.5h5.52v2h-5.52zM296.07 194.5h5.52v2h-5.52zM307.11 196.5h5.52v2h-5.52zM285.02 200.5h11.05v2h-11.05z"/>
<path fill="#84a7d4" d="M301.59 74.5h5.52v2h-5.52z"/>
<path fill="#ed9d5c" d="M389.95 74.5h5.52v2h-5.52z"/>
<path fill="#a7c5e3" d="M279.50 76.5h5.52v2h-5.52zM279.50 78.5h5.52v2h-5.52zM279.50 80.5h5.52v2h-5.52zM290.55 80.5h5.52v2h-5.52zM301.59 82.5h5.52v2h-5.52zM285.02 84.5h11.05v2h-11.05zM279.50 86.5h5.52v2h-5.52zM290.55 88.5h5.52v2h-5.52zM279.50 90.5h5.52v2h-5.52zM296.07 90.5h5.52v2h-5.52zM307.11 90.5h5.52v2h-5.52zM296.07 94.5h5.52v2h-5.52zM279.50 262.5h5.52v2h-5.52zM296.07 262.5h11.05v2h-11.05zM301.59 266.5h5.52v2h-5.52z"/>
<path fill="#b1cae8" d="M285.02 76.5h11.05v2h-11.05zM279.50 82.5h5.52v2h-5.52zM279.50 100.5h5.52v2h-5.52zM301.59 106.5h11.05v2h-11.05zM290.55 108.5h5.52v2h-5.52zM301.59 108.5h5.52v2h-5.52zM296.07 110.5h5.52v2h-5.52zM307.11 130.5h5.52v2h-5.52zM279.50 184.5h5.52v2h-5.52zM301.59 258.5h5.52v2h-5.52zM290.55 262.5h5.52v2h-5.52zM296.07 264.5h16.57v2h-16.57zM296.07 266.5h5.52v2h-5.52zM307.11 268.5h5.52v2h-5.52z"/>
<path fill="#f2ac61" d="M373.39 76.5h5.52v2h-5.52z"/>
<path fill="#f2a75c" d="M378.91 76.5h5.52v2h-5.52z"/>
<path fill="#e8844d" d="M389.95 76.5h5.52v2h-5.52z"/>
<path fill="#e8894d" d="M395.48 76.5h5.52v2h-5.52z"/>
<path fill="#a2c0e3" d="M285.02 78.5h11.05v2h-11.05zM301.59 80.5h5.52v2h-5.52zM307.11 88.5h5.52v2h-5.52zM296.07 202.5h5.52v2h-5.52zM307.11 262.5h5.52v2h-5.52z"/>
<path fill="#a2c0de" d="M307.11 78.5h5.52v2h-5.52zM290.55 204.5h5.52v2h-5.52z"/>
<path fill="#accae3" d="M285.02 80.5h5.52v2h-5.52zM307.11 82.5h5.52v2h-5.52zM279.50 84.5h5.52v2h-5.52zM285.02 86.5h11.05v2h-11.05zM279.50 88.5h11.05v2h-11.05zM285.02 90.5h11.05v2h-11.05zM296.07 92.5h16.57v2h-16.57zM301.59 94.5h11.05v2h-11.05zM307.11 108.5h5.52v2h-5.52zM296.07 130.5h5.52v2h-5.52zM285.02 184.5h11.05v2h-11.05zM285.02 262.5h5.52v2h-5.52zM296.07 268.5h5.52v2h-5.52z"/>
<path fill="#b6cfe8" d="M285.02 82.5h11.05v2h-11.05zM307.11 86.5h5.52v2h-5.52zM290.55 94.5h5.52v2h-5.52zM296.07 96.5h5.52v2h-5.52zM290.55 100.5h5.52v2h-5.52zM307.11 100.5h5.52v2h-5.52zM296.07 102.5h5.52v2h-5.52zM285.02 104.5h5.52v2h-5.52zM301.59 104.5h11.05v2h-11.05zM296.07 106.5h5.52v2h-5.52zM279.50 108.5h5.52v2h-5.52zM279.50 110.5h5.52v2h-5.52zM301.59 110.5h5.52v2h-5.52zM279.50 114.5h11.05v2h-11.05zM307.11 114.5h5.52v2h-5.52zM279.50 120.5h11.05v2h-11.05zM301.59 128.5h5.52v2h-5.52zM301.59 130.5h5.52v2h-5.52zM296.07 258.5h5.52v2h-5.52zM307.11 258.5h5.52v2h-5.52zM296.07 260.5h11.05v2h-11.05zM307.11 266.5h5.52v2h-5.52z"/>
<path fill="#acc5e3" d="M296.07 82.5h5.52v2h-5.52zM285.02 100.5h5.52v2h-5.52zM296.07 108.5h5.52v2h-5.52zM307.11 202.5h5.52v2h-5.52zM301.59 268.5h5.52v2h-5.52z"/>
<path fill="#b1cfe8" d="M296.07 86.5h5.52v2h-5.52zM301.59 100.5h5.52v2h-5.52zM307.11 102.5h5.52v2h-5.52zM285.02 108.5h5.52v2h-5.52zM290.55 130.5h5.52v2h-5.52z"/>
<path fill="#bbd4e8" d="M301.59 86.5h5.52v2h-5.52zM279.50 92.5h16.57v2h-16.57zM285.02 94.5h5.52v2h-5.52zM307.11 96.5h5.52v2h-5.52zM296.07 100.5h5.52v2h-5.52zM279.50 102.5h5.52v2h-5.52zM290.55 102.5h5.52v2h-5.52zM279.50 104.5h5.52v2h-5.52zM279.50 106.5h16.57v2h-16.57zM290.55 110.5h5.52v2h-5.52zM307.11 110.5h5.52v2h-5.52zM296.07 120.5h11.05v2h-11.05zM290.55 126.5h11.05v2h-11.05zM307.11 126.5h5.52v2h-5.52zM296.07 128.5h5.52v2h-5.52zM279.50 130.5h11.05v2h-11.05zM301.59 230.5h11.05v2h-11.05zM301.59 242.5h5.52v2h-5.52zM301.59 244.5h5.52v2h-5.52zM285.02 256.5h5.52v2h-5.52zM279.50 258.5h5.52v2h-5.52zM279.50 264.5h16.57v2h-16.57zM285.02 266.5h5.52v2h-5.52zM290.55 268.5h5.52v2h-5.52z"/>
<path fill="#f7ca7f" d="M373.39 86.5h5.52v2h-5.52z"/>
<path fill="#a7c0e3" d="M296.07 88.5h5.52v2h-5.52zM301.59 184.5h5.52v2h-5.52z"/>
<path fill="#fcedbb" d="M356.82 90.5h5.52v2h-5.52zM373.39 92.5h5.52v2h-5.52zM329.20 96.5h5.52v2h-5.52zM323.68 98.5h5.52v2h-5.52zM340.25 98.5h11.05v2h-11.05zM373.39 100.5h5.52v2h-5.52zM384.43 100.5h5.52v2h-5.52zM312.64 112.5h5.52v2h-5.52zM367.86 116.5h5.52v2h-5.52zM318.16 126.5h5.52v2h-5.52zM367.86 130.5h5.52v2h-5.52zM384.43 132.5h5.52v2h-5.52zM389.95 138.5h5.52v2h-5.52zM373.39 140.5h16.57v2h-16.57zM378.91 142.5h16.57v2h-16.57zM378.91 146.5h5.52v2h-5.52zM389.95 146.5h5.52v2h-5.52zM373.39 148.5h5.52v2h-5.52zM378.91 150.5h5.52v2h-5.52zM312.64 152.5h16.57v2h-16.57zM340.25 152.5h11.05v2h-11.05zM373.39 152.5h5.52v2h-5.52zM373.39 154.5h5.52v2h-5.52zM384.43 154.5h5.52v2h-5.52zM395.48 154.5h5.52v2h-5.52zM384.43 160.5h5.52v2h-5.52zM389.95 162.5h11.05v2h-11.05zM389.95 166.5h5.52v2h-5.52zM384.43 170.5h5.52v2h-5.52zM323.68 172.5h5.52v2h-5.52zM389.95 176.5h5.52v2h-5.52zM329.20 182.5h11.05v2h-11.05zM367.86 182.5h5.52v2h-5.52zM351.30 184.5h11.05v2h-11.05zM323.68 186.5h5.52v2h-5.52zM389.95 186.5h5.52v2h-5.52zM329.20 188.5h5.52v2h-5.52zM356.82 190.5h5.52v2h-5.52zM395.48 194.5h5.52v2h-5.52zM356.82 196.5h5.52v2h-5.52zM329.20 200.5h5.52v2h-5.52zM356.82 202.5h5.52v2h-5.52zM389.95 202.5h11.05v2h-11.05zM334.73 206.5h11.05v2h-11.05zM312.64 214.5h16.57v2h-16.57zM345.77 214.5h5.52v2h-5.52zM389.95 214.5h5.52v2h-5.52zM345.77 216.5h5.52v2h-5.52zM362.34 218.5h5.52v2h-5.52zM362.34 220.5h5.52v2h-5.52zM362.34 224.5h5.52v2h-5.52zM334.73 226.5h5.52v2h-5.52zM356.82 228.5h5.52v2h-5.52zM334.73 232.5h5.52v2h-5.52zM362.34 236.5h5.52v2h-5.52zM373.39 236.5h5.52v2h-5.52zM384.43 236.5h5.52v2h-5.52zM340.25 238.5h5.52v2h-5.52zM329.20 240.5h5.52v2h-5.52zM340.25 240.5h5.52v2h-5.52zM351.30 240.5h5.52v2h-5.52zM395.48 240.5h5.52v2h-5.52zM329.20 244.5h5.52v2h-5.52zM345.77 244.5h5.52v2h-5.52zM329.20 246.5h5.52v2h-5.52zM356.82 246.5h5.52v2h-5.52zM389.95 246.5h11.05v2h-11.05zM329.20 248.5h5.52v2h-5.52zM362.34 248.5h5.52v2h-5.52zM345.77 250.5h5.52v2h-5.52zM356.82 250.5h5.52v2h-5.52zM389.95 250.5h5.52v2h-5.52zM318.16 266.5h5.52v2h-5.52zM351.30 266.5h5.52v2h-5.52zM362.34 266.5h5.52v2h-5.52zM373.39 266.5h5.52v2h-5.52zM329.20 268.5h5.52v2h-5.52zM329.20 270.5h5.52v2h-5.52zM340.25 270.5h11.05v2h-11.05zM373.39 270.5h5.52v2h-5.52zM296.07 272.5h5.52v2h-5.52zM356.82 278.5h11.05v2h-11.05zM345.77 280.5h5.52v2h-5.52z"/>
<path fill="#c0d9ed" d="M279.50 94.5h5.52v2h-5.52zM290.55 96.5h5.52v2h-5.52zM290.55 114.5h11.05v2h-11.05zM285.02 116.5h5.52v2h-5.52zM307.11 120.5h5.52v2h-5.52zM279.50 124.5h5.52v2h-5.52zM285.02 126.5h5.52v2h-5.52zM301.59 126.5h5.52v2h-5.52zM296.07 208.5h5.52v2h-5.52zM279.50 226.5h27.61v2h-27.61zM285.02 230.5h5.52v2h-5.52zM296.07 232.5h11.05v2h-11.05zM279.50 242.5h11.05v2h-11.05zM296.07 254.5h11.05v2h-11.05zM279.50 256.5h5.52v2h-5.52zM296.07 256.5h16.57v2h-16.57zM285.02 258.5h5.52v2h-5.52zM290.55 260.5h5.52v2h-5.52zM279.50 266.5h5.52v2h-5.52zM290.55 266.5h5.52v2h-5.52zM279.50 268.5h11.05v2h-11.05z"/>
<path fill="#c5d9ed" d="M279.50 96.5h5.52v2h-5.52zM301.59 96.5h5.52v2h-5.52zM307.11 98.5h5.52v2h-5.52zM296.07 104.5h5.52v2h-5.52zM296.07 112.5h5.52v2h-5.52zM279.50 116.5h5.52v2h-5.52zM290.55 116.5h5.52v2h-5.52zM296.07 118.5h5.52v2h-5.52zM290.55 122.5h11.05v2h-11.05zM307.11 122.5h5.52v2h-5.52zM285.02 124.5h5.52v2h-5.52zM301.59 124.5h11.05v2h-11.05zM279.50 128.5h16.57v2h-16.57zM296.07 242.5h5.52v2h-5.52zM290.55 244.5h11.05v2h-11.05zM307.11 244.5h5.52v2h-5.52zM279.50 254.5h11.05v2h-11.05zM307.11 254.5h5.52v2h-5.52zM290.55 256.5h5.52v2h-5.52zM279.50 260.5h5.52v2h-5.52z"/>
<path fill="#c0d4e8" d="M285.02 96.5h5.52v2h-5.52zM290.55 104.5h5.52v2h-5.52zM285.02 110.5h5.52v2h-5.52zM279.50 126.5h5.52v2h-5.52zM290.55 258.5h5.52v2h-5.52z"/>
<path fill="#d4e3ed" d="M279.50 98.5h5.52v2h-5.52zM285.02 174.5h5.52v2h-5.52zM285.02 212.5h5.52v2h-5.52zM279.50 238.5h5.52v2h-5.52zM301.59 248.5h5.52v2h-5.52zM367.86 282.5h5.52v2h-5.52z"/>
<path fill="#fcedb1" d="M395.48 100.5h5.52v2h-5.52zM384.43 130.5h5.52v2h-5.52zM334.73 188.5h5.52v2h-5.52zM395.48 220.5h5.52v2h-5.52zM345.77 232.5h5.52v2h-5.52zM351.30 236.5h5.52v2h-5.52z"/>
<path fill="#c0d4ed" d="M285.02 102.5h5.52v2h-5.52zM301.59 102.5h5.52v2h-5.52zM301.59 114.5h5.52v2h-5.52zM301.59 122.5h5.52v2h-5.52zM307.11 128.5h5.52v2h-5.52zM307.11 226.5h5.52v2h-5.52zM279.50 230.5h5.52v2h-5.52zM290.55 230.5h5.52v2h-5.52z"/>
<path fill="#cfe3ed" d="M285.02 112.5h11.05v2h-11.05zM307.11 142.5h5.52v2h-5.52zM296.07 164.5h5.52v2h-5.52zM307.11 164.5h5.52v2h-5.52zM290.55 168.5h5.52v2h-5.52zM301.59 174.5h5.52v2h-5.52zM290.55 176.5h5.52v2h-5.52zM279.50 178.5h5.52v2h-5.52zM290.55 178.5h5.52v2h-5.52zM307.11 178.5h5.52v2h-5.52zM307.11 180.5h5.52v2h-5.52zM285.02 206.5h5.52v2h-5.52zM285.02 208.5h5.52v2h-5.52zM296.07 224.5h16.57v2h-16.57zM290.55 228.5h5.52v2h-5.52zM301.59 228.5h5.52v2h-5.52zM279.50 234.5h16.57v2h-16.57zM285.02 238.5h5.52v2h-5.52zM301.59 238.5h5.52v2h-5.52zM290.55 240.5h5.52v2h-5.52zM301.59 240.5h11.05v2h-11.05zM296.07 248.5h5.52v2h-5.52zM285.02 252.5h11.05v2h-11.05zM307.11 252.5h5.52v2h-5.52zM367.86 280.5h5.52v2h-5.52z"/>
<path fill="#c5deed" d="M290.55 118.5h5.52v2h-5.52zM307.11 118.5h5.52v2h-5.52zM296.07 168.5h11.05v2h-11.05zM290.55 242.5h5.52v2h-5.52zM285.02 244.5h5.52v2h-5.52zM290.55 254.5h5.52v2h-5.52z"/>
<path fill="#bbcfe8" d="M290.55 120.5h5.52v2h-5.52zM296.07 230.5h5.52v2h-5.52zM307.11 260.5h5.52v2h-5.52z"/>
<path fill="#cfdeed" d="M296.07 124.5h5.52v2h-5.52zM285.02 168.5h5.52v2h-5.52zM296.07 178.5h5.52v2h-5.52zM301.59 180.5h5.52v2h-5.52zM307.11 228.5h5.52v2h-5.52zM296.07 240.5h5.52v2h-5.52zM301.59 252.5h5.52v2h-5.52zM285.02 260.5h5.52v2h-5.52z"/>
<path fill="#9dc0de" d="M296.07 184.5h5.52v2h-5.52zM296.07 204.5h5.52v2h-5.52z"/>
<path fill="#84acd4" d="M290.55 188.5h5.52v2h-5.52zM296.07 190.5h5.52v2h-5.52z"/>
<path fill="#8eb1d9" d="M279.50 190.5h5.52v2h-5.52zM307.11 190.5h5.52v2h-5.52zM279.50 192.5h11.05v2h-11.05zM301.59 194.5h5.52v2h-5.52zM279.50 196.5h27.61v2h-27.61zM296.07 198.5h16.57v2h-16.57zM279.50 200.5h5.52v2h-5.52z"/>
<path fill="#7aa2cf" d="M296.07 200.5h5.52v2h-5.52z"/>
<path fill="#89acd4" d="M301.59 200.5h5.52v2h-5.52z"/>
<path fill="#7a9dcf" d="M307.11 200.5h5.52v2h-5.52z"/>
<path fill="#e8eded" d="M279.50 222.5h5.52v2h-5.52zM395.48 282.5h5.52v2h-5.52z"/>
</g>
<rect x="279.50" y="32.8" width="6.12" height="4.6" fill="#f2e82a"/>
<rect x="285.02" y="32.8" width="6.12" height="4.6" fill="#f2e82a"/>
<rect x="290.55" y="32.8" width="6.12" height="4.6" fill="#f2e82a"/>
<rect x="296.07" y="32.8" width="6.12" height="4.6" fill="#7a1518"/>
<rect x="301.59" y="32.8" width="6.12" height="4.6" fill="#7a1518"/>
<rect x="307.11" y="32.8" width="6.12" height="4.6" fill="#7a1518"/>
<rect x="312.64" y="32.8" width="6.12" height="4.6" fill="#d0261e"/>
<rect x="318.16" y="32.8" width="6.12" height="4.6" fill="#d0261e"/>
<rect x="323.68" y="32.8" width="6.12" height="4.6" fill="#d0261e"/>
<rect x="329.20" y="32.8" width="6.12" height="4.6" fill="#3d4a9c"/>
<rect x="334.73" y="32.8" width="6.12" height="4.6" fill="#3d4a9c"/>
<rect x="340.25" y="32.8" width="6.12" height="4.6" fill="#3d4a9c"/>
<rect x="345.77" y="32.8" width="6.12" height="4.6" fill="#3d4a9c"/>
<rect x="351.30" y="32.8" width="6.12" height="4.6" fill="#2e6e34"/>
<rect x="356.82" y="32.8" width="6.12" height="4.6" fill="#2e6e34"/>
<rect x="362.34" y="32.8" width="6.12" height="4.6" fill="#2e6e34"/>
<rect x="367.86" y="32.8" width="6.12" height="4.6" fill="#4e9c94"/>
<rect x="373.39" y="32.8" width="6.12" height="4.6" fill="#050505"/>
<rect x="378.91" y="32.8" width="6.12" height="4.6" fill="#050505"/>
<rect x="384.43" y="32.8" width="6.12" height="4.6" fill="#050505"/>
<rect x="389.95" y="32.8" width="6.12" height="4.6" fill="#4e9c94"/>
<rect x="395.48" y="32.8" width="6.12" height="4.6" fill="#4e9c94"/>
<path d="M287.8 32.8V29.5H293.3V32.8M282.3 32.8V28.3H290.5V29.5M304.4 32.8V29.5H309.9V32.8M298.8 32.8V28.3H307.1V29.5M286.4 28.3V25.9H303.0V28.3M320.9 32.8V29.5H326.4V32.8M315.4 32.8V28.5H323.7V29.5M337.5 32.8V29.8H343.0V32.8M340.2 29.8V28.6H348.5V32.8M332.0 32.8V26.4H344.4V28.6M359.6 32.8V29.8H365.1V32.8M354.1 32.8V28.2H362.3V29.8M338.2 26.4V24.6H358.2V28.2M319.5 28.5V23.4H348.2V24.6M381.7 32.8V29.6H387.2V32.8M376.1 32.8V28.0H384.4V29.6M392.7 32.8V29.0H398.2V32.8M380.3 28.0V26.6H395.5V29.0M370.6 32.8V21.0H387.9V26.6M333.9 23.4V19.6H379.3V21.0M294.7 25.9V8.0H356.6V19.6" fill="none" stroke="#111" stroke-width="1"/>
<path d="M263 41.5H254.3V111.7H257.1M275.3 72.3H257.1V151.2H262.2M267.2 83.3H262.2V217.9H264.7M267.2 72.3V93.7H274M270 198.8H264.7V236H266.5M269 220.4H266.5V251.2H268.4M273 226.4H268.4V282H273M273 186H269.9V208.3H273" fill="none" stroke="#111" stroke-width="0.9"/>
<path d="M268.8 95V130M270.3 110V150M269.5 255V270" stroke="#777" stroke-width="0.8"/>
<path d="M262.9 43.2V39.6H279.5M262.9 43.2H267.5V39.6M267.5 41.2V46.4H271V41.2Z" fill="none" stroke="#111" stroke-width="0.9"/>
<rect x="276.3" y="39.5" width="3.3" height="245" fill="#0a0a0a"/>
<path d="M271 41L276.5 41L276.5 72L275.3 72L273.5 66L271.6 55Z" fill="#111"/>
<path d="M273.3 44.5L274.8 44.5L275.4 55L275 62L274.2 63.5L273.7 55Z" fill="#e8e8e8"/>
<path d="M275.6 73.0V81.6M275.7 81.6V93.1M275.7 93.1V96.3M275.2 105.2V109.2M275.1 109.2V117.1M275.7 117.1V122.1M275.6 122.1V131.9M275.1 131.9V136.2M275.2 136.2V139.2M275.7 144.1V155.0M275.2 155.0V162.9M275.7 162.9V174.3M275.3 174.3V185.4M275.1 185.4V189.9M275.1 189.9V195.6M275.3 195.6V204.7M275.3 204.7V215.0M275.1 215.0V222.4M275.6 222.4V234.1M275.6 234.1V244.8M275.1 244.8V251.0M275.7 251.0V254.5M275.7 254.5V259.2M275.3 259.2V270.7M275.1 270.7V278.4M275.7 278.4V284.0M274.2 76.3V80.2M274.4 80.2V91.4M274.0 91.4V99.3M273.9 99.3V103.9M274.4 113.1V117.6M273.9 117.6V125.4M273.8 133.7V140.8M274.1 140.8V152.1M274.3 152.1V162.6M274.3 162.6V174.2M273.9 174.2V178.1M274.1 178.1V188.7M274.1 200.7V212.5M274.0 212.5V222.1M274.0 222.1V228.7M274.0 240.6V249.2M274.3 249.2V253.0M274.3 253.0V263.8M274.2 263.8V273.8M274.2 273.8V283.7M274.3 283.7V284.0M273.1 73.0V79.1M272.6 85.0V87.1M273.0 87.1V93.1M272.6 128.7V133.8M272.6 171.7V178.0M272.8 186.0V191.8M272.5 191.8V195.1M272.6 195.1V199.0M272.7 199.0V201.3M272.6 210.4V212.4M273.0 212.4V216.8M272.9 216.8V221.1M272.7 221.1V223.6M273.0 229.1V236.0M272.5 236.0V241.9M273.1 255.2V260.9M272.8 260.9V262.9M272.9 262.9V268.6M272.8 268.6V275.9M273.1 275.9V279.3M271.5 84.4V88.8M271.7 91.4V95.7M271.5 95.7V101.8M271.3 105.2V111.1M271.5 132.8V136.5M271.5 146.5V148.7M271.7 155.3V160.0M271.4 178.0V184.3M271.7 184.3V190.4M271.5 199.4V205.9M271.6 210.7V214.3M271.3 214.3V220.4M271.7 226.5V231.8M271.7 238.7V244.2M271.8 254.0V256.7M271.6 259.5V263.5M271.4 263.5V265.7M271.6 265.7V268.1" stroke="#111" stroke-width="0.95" fill="none"/>
<path d="M273.4 73.0H276.5M274.2 74.6H276.5M274.0 76.5H276.5M274.8 79.3H276.5M274.0 82.2H276.5M273.8 84.3H276.5M274.4 86.5H276.5M272.7 89.3H276.5M273.4 91.3H276.5M272.9 94.7H276.5M274.1 98.0H276.5M274.1 99.7H276.5M272.7 101.4H276.5M273.0 104.4H276.5M273.6 108.1H276.5M274.5 110.4H276.5M274.3 112.0H276.5M272.8 113.6H276.5M274.2 117.5H276.5M272.7 119.5H276.5M274.1 123.5H276.5M272.8 127.0H276.5M273.3 130.1H276.5M273.3 132.2H276.5M273.3 135.2H276.5M272.8 137.7H276.5M274.1 141.2H276.5M273.5 144.8H276.5M273.7 148.4H276.5M273.9 151.4H276.5M273.4 154.7H276.5M272.5 156.5H276.5M272.5 158.5H276.5M273.7 162.2H276.5M272.4 165.6H276.5M274.7 168.3H276.5M273.5 171.3H276.5M272.7 174.0H276.5M272.8 175.9H276.5M273.4 178.3H276.5M272.8 182.0H276.5M270.4 184.1H276.5M270.8 186.0H276.5M271.5 188.1H276.5M272.5 189.7H276.5M272.9 192.1H276.5M273.1 195.4H276.5M274.0 198.0H276.5M274.0 199.8H276.5M274.2 202.1H276.5M272.8 205.4H276.5M272.5 207.4H276.5M272.6 209.5H276.5M274.9 212.0H276.5M273.2 214.4H276.5M273.1 217.0H276.5M274.3 220.4H276.5M273.0 222.3H276.5M274.8 225.5H276.5M273.5 228.6H276.5M272.4 232.5H276.5M274.4 234.2H276.5M272.5 236.7H276.5M275.0 239.6H276.5M273.3 242.4H276.5M272.6 244.1H276.5M273.7 247.8H276.5M272.5 251.7H276.5M272.5 253.8H276.5M272.6 256.3H276.5M273.5 258.4H276.5M272.5 260.7H276.5M274.9 262.3H276.5M273.7 264.2H276.5M273.8 266.7H276.5M269.8 268.4H276.5M270.7 270.2H276.5M270.9 274.0H276.5M269.4 277.7H276.5M270.7 279.2H276.5M270.8 281.9H276.5" stroke="#111" stroke-width="0.8" fill="none"/>
<defs><linearGradient id="cb" x1="0" y1="0" x2="0" y2="1">
<stop offset="0.000" stop-color="#a50026"/>
<stop offset="0.125" stop-color="#d85030"/>
<stop offset="0.250" stop-color="#f2aa60"/>
<stop offset="0.312" stop-color="#f7cc80"/>
<stop offset="0.375" stop-color="#fbe3a0"/>
<stop offset="0.438" stop-color="#fcf2c6"/>
<stop offset="0.500" stop-color="#fcfae4"/>
<stop offset="0.562" stop-color="#eaf2ec"/>
<stop offset="0.625" stop-color="#d4e5f0"/>
<stop offset="0.688" stop-color="#bcd4ea"/>
<stop offset="0.750" stop-color="#a4c2e2"/>
<stop offset="0.812" stop-color="#88acd6"/>
<stop offset="0.875" stop-color="#6088c4"/>
<stop offset="1.000" stop-color="#313695"/>
</linearGradient></defs>
<rect x="403.4" y="38.7" width="5.3" height="71.5" fill="url(#cb)"/>
<text x="402.5" y="36.8" font-size="6" textLength="12" lengthAdjust="spacingAndGlyphs" fill="#333" color="#333">cond</text>
<text x="410.8" y="43.0" font-size="5.8" fill="#333" color="#333">4</text>
<text x="410.8" y="60.400000000000006" font-size="5.8" fill="#333" color="#333">2</text>
<text x="410.8" y="77.7" font-size="5.8" fill="#333" color="#333">0</text>
<text x="410.8" y="95.0" font-size="5.8" fill="#333" color="#333">-2</text>
<text x="410.8" y="112.4" font-size="5.8" fill="#333" color="#333">-4</text>
<rect x="402.8" y="116.4" width="6.9" height="7" fill="#7a1518"/>
<text x="413" y="122.7" font-size="7.8" fill="#231f20" color="#231f20">WT Naive</text>
<rect x="402.8" y="131.9" width="6.9" height="7" fill="#f2e82a"/>
<text x="413" y="138.20000000000002" font-size="7.8" fill="#231f20" color="#231f20">tgRhoA Naive</text>
<rect x="402.8" y="147.8" width="6.9" height="7" fill="#2e6e34"/>
<text x="413" y="154.10000000000002" font-size="7.8" fill="#231f20" color="#231f20">WT Activated</text>
<rect x="402.8" y="163.3" width="6.9" height="7" fill="#3d4a9c"/>
<text x="413" y="169.60000000000002" font-size="7.8" fill="#231f20" color="#231f20">tgRhoA Activated</text>
<rect x="402.8" y="178.1" width="6.9" height="7" fill="#d0261e"/>
<rect x="402.8" y="195.2" width="6.9" height="7" fill="#050505"/>
<rect x="402.8" y="211.5" width="6.9" height="7" fill="#4e9c94"/>
<text x="413" y="183.60" font-size="7.80" fill="#231f20" color="#231f20" textLength="10.4" lengthAdjust="spacingAndGlyphs">WT</text>
<text x="425.4" y="183.60" font-size="7.80" fill="#231f20" color="#231f20" textLength="4" lengthAdjust="spacingAndGlyphs">T</text>
<text x="430.4" y="185.55" font-size="4.84" fill="#231f20" color="#231f20" textLength="6.8" lengthAdjust="spacingAndGlyphs">FH</text>
<text x="414" y="201.00" font-size="7.80" fill="#231f20" color="#231f20" textLength="14.5" lengthAdjust="spacingAndGlyphs" font-style="italic">Tet2</text>
<text x="430.8" y="198.04" font-size="4.68" fill="#231f20" color="#231f20" textLength="7.5" lengthAdjust="spacingAndGlyphs">fl/fl</text>
<text x="438.3" y="201.00" font-size="7.80" fill="#231f20" color="#231f20" textLength="2" lengthAdjust="spacingAndGlyphs">;</text>
<text x="440.6" y="201.00" font-size="7.80" fill="#231f20" color="#231f20" textLength="27.6" lengthAdjust="spacingAndGlyphs">Vav-Cre</text>
<text x="468.4" y="198.04" font-size="4.68" fill="#231f20" color="#231f20" textLength="2.4" lengthAdjust="spacingAndGlyphs">+</text>
<text x="473" y="201.00" font-size="7.80" fill="#231f20" color="#231f20" textLength="3.9" lengthAdjust="spacingAndGlyphs">T</text>
<text x="477.7" y="202.95" font-size="4.84" fill="#231f20" color="#231f20" textLength="6.5" lengthAdjust="spacingAndGlyphs">FH</text>
<text x="413.2" y="216.50" font-size="7.80" fill="#231f20" color="#231f20" textLength="27.7" lengthAdjust="spacingAndGlyphs">tgRhoA;</text>
<text x="441.4" y="216.50" font-size="7.80" fill="#231f20" color="#231f20" textLength="15.3" lengthAdjust="spacingAndGlyphs" font-style="italic">Tet2</text>
<text x="457.9" y="213.54" font-size="4.68" fill="#231f20" color="#231f20" textLength="7.1" lengthAdjust="spacingAndGlyphs">fl/fl</text>
<text x="465" y="216.50" font-size="7.80" fill="#231f20" color="#231f20" textLength="2" lengthAdjust="spacingAndGlyphs">;</text>
<text x="468.4" y="216.50" font-size="7.80" fill="#231f20" color="#231f20" textLength="27.3" lengthAdjust="spacingAndGlyphs">Vav-Cre</text>
<text x="496.6" y="213.54" font-size="4.68" fill="#231f20" color="#231f20" textLength="2.4" lengthAdjust="spacingAndGlyphs">+</text>
<text x="501.5" y="216.50" font-size="7.80" fill="#231f20" color="#231f20" textLength="3.3" lengthAdjust="spacingAndGlyphs">T</text>
<text x="505.2" y="218.45" font-size="4.84" fill="#231f20" color="#231f20" textLength="6.6" lengthAdjust="spacingAndGlyphs">FH</text>
<text x="0" y="0" font-size="1" fill="#222" color="#222"></text>
<text x="7.8" y="318.8" font-size="11" font-weight="bold" fill="#000" color="#000">C</text>
<text x="79.2" y="317.8" font-size="8.2" textLength="128.6" lengthAdjust="spacingAndGlyphs" fill="#231f20" color="#231f20">tgRhoA vs. WT Naive CD4 T cells</text>
<rect x="124.3" y="331.80" width="92.50" height="6.0" fill="#a80c30"/>
<path d="M121.5 334.80H124.3" stroke="#111" stroke-width="0.9"/>
<text x="117.8" y="337.25" font-size="6.8" text-anchor="end" textLength="89.2" lengthAdjust="spacingAndGlyphs" fill="#231f20" color="#231f20">PI3K_AKT_MTOR_SIGNALING</text>
<rect x="124.3" y="340.46" width="93.00" height="6.0" fill="#a80c30"/>
<path d="M121.5 343.46H124.3" stroke="#111" stroke-width="0.9"/>
<text x="117.8" y="345.91" font-size="6.8" text-anchor="end" textLength="44.5" lengthAdjust="spacingAndGlyphs" fill="#231f20" color="#231f20">COMPLEMENT</text>
<rect x="124.3" y="349.12" width="107.30" height="6.0" fill="#a80c30"/>
<path d="M121.5 352.12H124.3" stroke="#111" stroke-width="0.9"/>
<text x="117.8" y="354.57" font-size="6.8" text-anchor="end" textLength="74.9" lengthAdjust="spacingAndGlyphs" fill="#231f20" color="#231f20">ANDROGEN_RESPONSE</text>
<rect x="124.3" y="357.78" width="108.90" height="6.0" fill="#a80c30"/>
<path d="M121.5 360.78H124.3" stroke="#111" stroke-width="0.9"/>
<text x="117.8" y="363.23" font-size="6.8" text-anchor="end" textLength="87.9" lengthAdjust="spacingAndGlyphs" fill="#231f20" color="#231f20">INFLAMMATORY_RESPONSE</text>
<rect x="124.3" y="366.44" width="123.20" height="6.0" fill="#a80c30"/>
<path d="M121.5 369.44H124.3" stroke="#111" stroke-width="0.9"/>
<text x="117.8" y="371.89" font-size="6.8" text-anchor="end" textLength="106.8" lengthAdjust="spacingAndGlyphs" fill="#231f20" color="#231f20">INTERFERON_GAMMA_RESPONSE</text>
<rect x="124.3" y="375.10" width="123.20" height="6.0" fill="#a80c30"/>
<path d="M121.5 378.10H124.3" stroke="#111" stroke-width="0.9"/>
<text x="117.8" y="380.55" font-size="6.8" text-anchor="end" textLength="68.7" lengthAdjust="spacingAndGlyphs" fill="#231f20" color="#231f20">IL2_STAT5_SIGNALING</text>
<rect x="124.3" y="383.76" width="123.20" height="6.0" fill="#a80c30"/>
<path d="M121.5 386.76H124.3" stroke="#111" stroke-width="0.9"/>
<text x="117.8" y="389.21" font-size="6.8" text-anchor="end" textLength="58.0" lengthAdjust="spacingAndGlyphs" fill="#231f20" color="#231f20">MYC_TARGETS_V1</text>
<rect x="124.3" y="392.42" width="123.20" height="6.0" fill="#a80c30"/>
<path d="M121.5 395.42H124.3" stroke="#111" stroke-width="0.9"/>
<text x="117.8" y="397.87" font-size="6.8" text-anchor="end" textLength="64.3" lengthAdjust="spacingAndGlyphs" fill="#231f20" color="#231f20">MTORC1_SIGNALING</text>
<rect x="124.3" y="401.08" width="123.20" height="6.0" fill="#a80c30"/>
<path d="M121.5 404.08H124.3" stroke="#111" stroke-width="0.9"/>
<text x="117.8" y="406.53000000000003" font-size="6.8" text-anchor="end" textLength="99.1" lengthAdjust="spacingAndGlyphs" fill="#231f20" color="#231f20">OXIDATIVE_PHOSPHORYLATION</text>
<rect x="124.3" y="409.74" width="123.20" height="6.0" fill="#a80c30"/>
<path d="M121.5 412.74H124.3" stroke="#111" stroke-width="0.9"/>
<text x="117.8" y="415.19" font-size="6.8" text-anchor="end" textLength="76.7" lengthAdjust="spacingAndGlyphs" fill="#231f20" color="#231f20">ALLOGRAFT_REJECTION</text>
<path d="M124.3 329.3V416.8H248.0" fill="none" stroke="#111" stroke-width="1.1"/>
<path d="M247.5 328.8V416.8" stroke="#111" stroke-width="0.9" stroke-dasharray="1.5,1.1"/>
<path d="M124.30 416.8V419.6" stroke="#111" stroke-width="0.9"/>
<text x="124.3" y="430.0" font-size="7" text-anchor="middle" fill="#231f20" color="#231f20">0</text>
<path d="M150.74 416.8V419.6" stroke="#111" stroke-width="0.9"/>
<text x="150.74" y="430.0" font-size="7" text-anchor="middle" fill="#231f20" color="#231f20">2</text>
<path d="M177.18 416.8V419.6" stroke="#111" stroke-width="0.9"/>
<text x="177.18" y="430.0" font-size="7" text-anchor="middle" fill="#231f20" color="#231f20">4</text>
<path d="M203.62 416.8V419.6" stroke="#111" stroke-width="0.9"/>
<text x="203.62" y="430.0" font-size="7" text-anchor="middle" fill="#231f20" color="#231f20">6</text>
<path d="M230.06 416.8V419.6" stroke="#111" stroke-width="0.9"/>
<text x="230.06" y="430.0" font-size="7" text-anchor="middle" fill="#231f20" color="#231f20">8</text>
<path d="M247.5 416.8V419.6" stroke="#111" stroke-width="0.9"/>
<text x="248.0" y="430.0" font-size="7" text-anchor="middle" textLength="12.5" lengthAdjust="spacingAndGlyphs" fill="#231f20" color="#231f20">&gt;9.1</text>
<text x="189.3" y="438.6" font-size="8.4" text-anchor="middle" textLength="21.4" lengthAdjust="spacingAndGlyphs" fill="#231f20" color="#231f20">-ln(FDR)</text>
<text x="268" y="318.8" font-size="11" font-weight="bold" fill="#000" color="#000">D</text>
<text x="288.8" y="317.40" font-size="8.40" fill="#231f20" color="#231f20" textLength="31.5" lengthAdjust="spacingAndGlyphs">tgRhoA;</text>
<text x="324" y="317.40" font-size="8.40" fill="#231f20" color="#231f20" textLength="16.5" lengthAdjust="spacingAndGlyphs" font-style="italic">Tet2</text>
<text x="340.6" y="314.21" font-size="5.04" fill="#231f20" color="#231f20" textLength="7.7" lengthAdjust="spacingAndGlyphs">fl/fl</text>
<text x="349.9" y="317.40" font-size="8.40" fill="#231f20" color="#231f20" textLength="1.8" lengthAdjust="spacingAndGlyphs">;</text>
<text x="354.4" y="317.40" font-size="8.40" fill="#231f20" color="#231f20" textLength="31.2" lengthAdjust="spacingAndGlyphs">Vav-Cre</text>
<text x="386.3" y="314.21" font-size="5.04" fill="#231f20" color="#231f20" textLength="3" lengthAdjust="spacingAndGlyphs">+</text>
<text x="392.3" y="317.40" font-size="8.40" fill="#231f20" color="#231f20" textLength="9.6" lengthAdjust="spacingAndGlyphs">vs.</text>
<text x="406.3" y="317.40" font-size="8.40" fill="#231f20" color="#231f20" textLength="16.2" lengthAdjust="spacingAndGlyphs" font-style="italic">Tet2</text>
<text x="422.5" y="314.21" font-size="5.04" fill="#231f20" color="#231f20" textLength="8.1" lengthAdjust="spacingAndGlyphs">fl/fl</text>
<text x="431.9" y="317.40" font-size="8.40" fill="#231f20" color="#231f20" textLength="1.8" lengthAdjust="spacingAndGlyphs">;</text>
<text x="436.9" y="317.40" font-size="8.40" fill="#231f20" color="#231f20" textLength="30.8" lengthAdjust="spacingAndGlyphs">Vav-Cre</text>
<text x="468.6" y="314.21" font-size="5.04" fill="#231f20" color="#231f20" textLength="2.2" lengthAdjust="spacingAndGlyphs">+</text>
<text x="474.8" y="317.40" font-size="8.40" fill="#231f20" color="#231f20" textLength="4.8" lengthAdjust="spacingAndGlyphs">T</text>
<text x="479.8" y="319.50" font-size="5.21" fill="#231f20" color="#231f20" textLength="8" lengthAdjust="spacingAndGlyphs">FH</text>
<text x="490.5" y="317.40" font-size="8.40" fill="#231f20" color="#231f20" textLength="16.4" lengthAdjust="spacingAndGlyphs">cells</text>
<rect x="373.2" y="331.65" width="90.10" height="5.9" fill="#a80c30"/>
<path d="M370.4 334.60H373.2" stroke="#111" stroke-width="0.9"/>
<text x="366.8" y="337.05" font-size="6.8" text-anchor="end" textLength="74.9" lengthAdjust="spacingAndGlyphs" fill="#231f20" color="#231f20">ANDROGEN_RESPONSE</text>
<rect x="373.2" y="339.45" width="94.10" height="5.9" fill="#a80c30"/>
<path d="M370.4 342.40H373.2" stroke="#111" stroke-width="0.9"/>
<text x="366.8" y="344.85" font-size="6.8" text-anchor="end" textLength="87.9" lengthAdjust="spacingAndGlyphs" fill="#231f20" color="#231f20">INFLAMMATORY_RESPONSE</text>
<rect x="373.2" y="347.25" width="95.50" height="5.9" fill="#a80c30"/>
<path d="M370.4 350.20H373.2" stroke="#111" stroke-width="0.9"/>
<text x="366.8" y="352.65000000000003" font-size="6.8" text-anchor="end" textLength="44.5" lengthAdjust="spacingAndGlyphs" fill="#231f20" color="#231f20">COMPLEMENT</text>
<rect x="373.2" y="355.05" width="96.00" height="5.9" fill="#a80c30"/>
<path d="M370.4 358.00H373.2" stroke="#111" stroke-width="0.9"/>
<text x="366.8" y="360.45" font-size="6.8" text-anchor="end" textLength="28.0" lengthAdjust="spacingAndGlyphs" fill="#231f20" color="#231f20">HYPOXIA</text>
<rect x="373.2" y="362.85" width="97.60" height="5.9" fill="#a80c30"/>
<path d="M370.4 365.80H373.2" stroke="#111" stroke-width="0.9"/>
<text x="366.8" y="368.25" font-size="6.8" text-anchor="end" textLength="67.2" lengthAdjust="spacingAndGlyphs" fill="#231f20" color="#231f20">KRAS_SIGNALING_UP</text>
<rect x="373.2" y="370.65" width="112.40" height="5.9" fill="#a80c30"/>
<path d="M370.4 373.60H373.2" stroke="#111" stroke-width="0.9"/>
<text x="366.8" y="376.05" font-size="6.8" text-anchor="end" textLength="39.0" lengthAdjust="spacingAndGlyphs" fill="#231f20" color="#231f20">GLYCOLYSIS</text>
<rect x="373.2" y="378.45" width="123.20" height="5.9" fill="#a80c30"/>
<path d="M370.4 381.40H373.2" stroke="#111" stroke-width="0.9"/>
<text x="366.8" y="383.85" font-size="6.8" text-anchor="end" textLength="68.3" lengthAdjust="spacingAndGlyphs" fill="#231f20" color="#231f20">PROTEIN_SECRETION</text>
<rect x="373.2" y="386.25" width="123.20" height="5.9" fill="#a80c30"/>
<path d="M370.4 389.20H373.2" stroke="#111" stroke-width="0.9"/>
<text x="366.8" y="391.65000000000003" font-size="6.8" text-anchor="end" textLength="64.3" lengthAdjust="spacingAndGlyphs" fill="#231f20" color="#231f20">MTORC1_SIGNALING</text>
<rect x="373.2" y="394.05" width="123.20" height="5.9" fill="#a80c30"/>
<path d="M370.4 397.00H373.2" stroke="#111" stroke-width="0.9"/>
<text x="366.8" y="399.45" font-size="6.8" text-anchor="end" textLength="44.3" lengthAdjust="spacingAndGlyphs" fill="#231f20" color="#231f20">E2F_TARGETS</text>
<rect x="373.2" y="401.85" width="123.20" height="5.9" fill="#a80c30"/>
<path d="M370.4 404.80H373.2" stroke="#111" stroke-width="0.9"/>
<text x="366.8" y="407.25" font-size="6.8" text-anchor="end" textLength="58.5" lengthAdjust="spacingAndGlyphs" fill="#231f20" color="#231f20">G2M_CHECKPOINT</text>
<rect x="373.2" y="409.65" width="123.20" height="5.9" fill="#a80c30"/>
<path d="M370.4 412.60H373.2" stroke="#111" stroke-width="0.9"/>
<text x="366.8" y="415.05" font-size="6.8" text-anchor="end" textLength="68.7" lengthAdjust="spacingAndGlyphs" fill="#231f20" color="#231f20">IL2_STAT5_SIGNALING</text>
<path d="M373.2 329.2V418.8H496.7" fill="none" stroke="#111" stroke-width="1.1"/>
<path d="M496.2 328.7V418.8" stroke="#111" stroke-width="0.9" stroke-dasharray="1.5,1.1"/>
<path d="M373.20 418.8V421.6" stroke="#111" stroke-width="0.9"/>
<text x="373.2" y="431.2" font-size="7" text-anchor="middle" fill="#231f20" color="#231f20">0</text>
<path d="M399.64 418.8V421.6" stroke="#111" stroke-width="0.9"/>
<text x="399.64" y="431.2" font-size="7" text-anchor="middle" fill="#231f20" color="#231f20">2</text>
<path d="M426.08 418.8V421.6" stroke="#111" stroke-width="0.9"/>
<text x="426.08" y="431.2" font-size="7" text-anchor="middle" fill="#231f20" color="#231f20">4</text>
<path d="M452.52 418.8V421.6" stroke="#111" stroke-width="0.9"/>
<text x="452.52" y="431.2" font-size="7" text-anchor="middle" fill="#231f20" color="#231f20">6</text>
<path d="M478.96 418.8V421.6" stroke="#111" stroke-width="0.9"/>
<text x="478.96" y="431.2" font-size="7" text-anchor="middle" fill="#231f20" color="#231f20">8</text>
<path d="M496.2 418.8V421.6" stroke="#111" stroke-width="0.9"/>
<text x="496.7" y="431.2" font-size="7" text-anchor="middle" textLength="12.5" lengthAdjust="spacingAndGlyphs" fill="#231f20" color="#231f20">&gt;9.1</text>
<text x="441.2" y="440.4" font-size="8.4" text-anchor="middle" textLength="21.4" lengthAdjust="spacingAndGlyphs" fill="#231f20" color="#231f20">-ln(FDR)</text>
<text x="8.5" y="457.6" font-size="11" font-weight="bold" fill="#000" color="#000">E</text>
<path d="M100.8 467.3H270" stroke="#111" stroke-width="1"/>
<text x="185.7" y="462.5" font-size="8.2" text-anchor="middle" font-weight="bold" textLength="81.5" lengthAdjust="spacingAndGlyphs" fill="#111" color="#111">Naive CD4 T cells</text>
<text x="0" y="0" font-size="8.8" text-anchor="middle" fill="#231f20" textLength="20.7" lengthAdjust="spacingAndGlyphs" transform="translate(30.5,518) rotate(-90)">5 min</text>
<text x="0" y="0" font-size="8.8" text-anchor="middle" fill="#231f20" textLength="25.7" lengthAdjust="spacingAndGlyphs" transform="translate(30.3,628) rotate(-90)">30 min</text>
<text x="38.9" y="684.7" font-size="6.5" textLength="10.6" lengthAdjust="spacingAndGlyphs" fill="#231f20" color="#231f20">pS6</text>
<text x="147.7" y="684.7" font-size="6.5" textLength="23.1" lengthAdjust="spacingAndGlyphs" fill="#231f20" color="#231f20">p4EBP1</text>
<text x="260.6" y="684.7" font-size="6.5" textLength="13.9" lengthAdjust="spacingAndGlyphs" fill="#231f20" color="#231f20">pAkt</text>
<path d="M364.3 552.4H374.2" stroke="#cfcfd2" stroke-width="1.6"/>
<text x="378.2" y="555.1" font-size="7.7" fill="#231f20" color="#231f20">unstimulated WT</text>
<path d="M364.3 565.1H374.2" stroke="#b3123f" stroke-width="1.6"/>
<text x="378.2" y="567.8000000000001" font-size="7.7" fill="#231f20" color="#231f20">WT</text>
<path d="M364.3 576.9H374.2" stroke="#233a72" stroke-width="1.6"/>
<text x="378.2" y="579.6" font-size="7.7" fill="#231f20" color="#231f20">tgRhoA</text>
<path d="M57.00 563.00C57.80 562.68 60.72 562.28 62.00 561.00C63.28 559.72 64.04 558.68 65.00 555.00C65.96 551.32 67.20 543.60 68.00 538.00C68.80 532.40 69.36 525.76 70.00 520.00C70.64 514.24 71.36 506.16 72.00 502.00C72.64 497.84 73.44 495.76 74.00 494.00C74.56 492.24 74.97 491.58 75.50 491.00C76.03 490.42 76.79 489.44 77.30 490.40C77.81 491.36 78.25 494.02 78.70 497.00C79.15 499.98 79.48 506.82 80.10 509.00C80.72 511.18 81.72 508.12 82.60 510.60C83.48 513.08 84.74 521.32 85.60 524.50C86.46 527.68 87.14 528.34 88.00 530.50C88.86 532.66 90.12 535.71 91.00 538.00C91.88 540.29 92.62 542.56 93.50 544.80C94.38 547.04 95.54 550.05 96.50 552.00C97.46 553.95 98.46 555.56 99.50 557.00C100.54 558.44 101.96 560.04 103.00 561.00C104.04 561.96 105.52 562.68 106.00 563.00L106 563L57 563Z" fill="#c8285a" fill-opacity="0.65" stroke="none"/>
<path d="M57.00 563.00C57.80 562.68 60.72 562.28 62.00 561.00C63.28 559.72 64.04 558.68 65.00 555.00C65.96 551.32 67.20 543.60 68.00 538.00C68.80 532.40 69.36 525.76 70.00 520.00C70.64 514.24 71.36 506.16 72.00 502.00C72.64 497.84 73.44 495.76 74.00 494.00C74.56 492.24 74.97 491.58 75.50 491.00C76.03 490.42 76.79 489.44 77.30 490.40C77.81 491.36 78.25 494.02 78.70 497.00C79.15 499.98 79.48 506.82 80.10 509.00C80.72 511.18 81.72 508.12 82.60 510.60C83.48 513.08 84.74 521.32 85.60 524.50C86.46 527.68 87.14 528.34 88.00 530.50C88.86 532.66 90.12 535.71 91.00 538.00C91.88 540.29 92.62 542.56 93.50 544.80C94.38 547.04 95.54 550.05 96.50 552.00C97.46 553.95 98.46 555.56 99.50 557.00C100.54 558.44 101.96 560.04 103.00 561.00C104.04 561.96 105.52 562.68 106.00 563.00" fill="none" stroke="#a80e3a" stroke-width="1.3" stroke-linejoin="round"/>
<path d="M65.00 563.00C65.48 561.88 67.12 559.68 68.00 556.00C68.88 552.32 69.78 545.44 70.50 540.00C71.22 534.56 71.86 526.80 72.50 522.00C73.14 517.20 73.88 512.48 74.50 510.00C75.12 507.52 75.81 506.90 76.40 506.50C76.99 506.10 77.61 506.94 78.20 507.50C78.79 508.06 79.40 509.12 80.10 510.00C80.80 510.88 81.72 510.76 82.60 513.00C83.48 515.24 84.74 520.96 85.60 524.00C86.46 527.04 87.22 529.76 88.00 532.00C88.78 534.24 89.70 536.48 90.50 538.00C91.30 539.52 92.22 540.49 93.00 541.50C93.78 542.51 94.76 543.98 95.40 544.30C96.04 544.62 96.42 542.59 97.00 543.50C97.58 544.41 98.26 548.00 99.00 550.00C99.74 552.00 100.80 554.40 101.60 556.00C102.40 557.60 103.14 558.88 104.00 560.00C104.86 561.12 106.52 562.52 107.00 563.00L107 563L65 563Z" fill="#4a64a8" fill-opacity="0.52" stroke="none"/>
<path d="M65.00 563.00C65.48 561.88 67.12 559.68 68.00 556.00C68.88 552.32 69.78 545.44 70.50 540.00C71.22 534.56 71.86 526.80 72.50 522.00C73.14 517.20 73.88 512.48 74.50 510.00C75.12 507.52 75.81 506.90 76.40 506.50C76.99 506.10 77.61 506.94 78.20 507.50C78.79 508.06 79.40 509.12 80.10 510.00C80.80 510.88 81.72 510.76 82.60 513.00C83.48 515.24 84.74 520.96 85.60 524.00C86.46 527.04 87.22 529.76 88.00 532.00C88.78 534.24 89.70 536.48 90.50 538.00C91.30 539.52 92.22 540.49 93.00 541.50C93.78 542.51 94.76 543.98 95.40 544.30C96.04 544.62 96.42 542.59 97.00 543.50C97.58 544.41 98.26 548.00 99.00 550.00C99.74 552.00 100.80 554.40 101.60 556.00C102.40 557.60 103.14 558.88 104.00 560.00C104.86 561.12 106.52 562.52 107.00 563.00" fill="none" stroke="#1c2e5e" stroke-width="1.35" stroke-linejoin="round"/>
<path d="M62.00 563.00C62.56 562.20 64.46 561.52 65.50 558.00C66.54 554.48 67.70 547.72 68.50 541.00C69.30 534.28 69.94 523.36 70.50 516.00C71.06 508.64 71.63 499.38 72.00 495.00C72.37 490.62 72.51 488.76 72.80 488.60C73.09 488.44 73.42 490.26 73.80 494.00C74.18 497.74 74.78 506.40 75.20 512.00C75.62 517.60 75.95 523.24 76.40 529.00C76.85 534.76 77.42 543.36 78.00 548.00C78.58 552.64 79.36 555.60 80.00 558.00C80.64 560.40 81.68 562.20 82.00 563.00L82 563L62 563Z" fill="#dcdce2" fill-opacity="0.84" stroke="none"/>
<path d="M62.00 563.00C62.56 562.20 64.46 561.52 65.50 558.00C66.54 554.48 67.70 547.72 68.50 541.00C69.30 534.28 69.94 523.36 70.50 516.00C71.06 508.64 71.63 499.38 72.00 495.00C72.37 490.62 72.51 488.76 72.80 488.60C73.09 488.44 73.42 490.26 73.80 494.00C74.18 497.74 74.78 506.40 75.20 512.00C75.62 517.60 75.95 523.24 76.40 529.00C76.85 534.76 77.42 543.36 78.00 548.00C78.58 552.64 79.36 555.60 80.00 558.00C80.64 560.40 81.68 562.20 82.00 563.00" fill="none" stroke="#eeeef0" stroke-width="1.0" stroke-linejoin="round"/>
<rect x="37.7" y="471.7" width="91.3" height="91.30000000000001" fill="none" stroke="#111" stroke-width="1.4"/>
<path d="M34.9 562.00H37.7M36.1 558.56H37.7M36.1 555.12H37.7M36.1 551.68H37.7M36.1 548.24H37.7M34.9 544.80H37.7M36.1 541.36H37.7M36.1 537.92H37.7M36.1 534.48H37.7M36.1 531.04H37.7M34.9 527.60H37.7M36.1 524.16H37.7M36.1 520.72H37.7M36.1 517.28H37.7M36.1 513.84H37.7M34.9 510.40H37.7M36.1 506.96H37.7M36.1 503.52H37.7M36.1 500.08H37.7M36.1 496.64H37.7M34.9 493.20H37.7M36.1 489.76H37.7M36.1 486.32H37.7M36.1 482.88H37.7M36.1 479.44H37.7M34.9 476.00H37.7M37.90 563V565.8M44.07 563V564.6M47.68 563V564.6M50.24 563V564.6M52.23 563V564.6M53.85 563V564.6M55.22 563V564.6M56.41 563V564.6M57.46 563V564.6M58.40 563V565.8M64.57 563V564.6M68.18 563V564.6M70.74 563V564.6M72.73 563V564.6M74.35 563V564.6M75.72 563V564.6M76.91 563V564.6M77.96 563V564.6M78.90 563V565.8M85.07 563V564.6M88.68 563V564.6M91.24 563V564.6M93.23 563V564.6M94.85 563V564.6M96.22 563V564.6M97.41 563V564.6M98.46 563V564.6M99.40 563V565.8M105.57 563V564.6M109.18 563V564.6M111.74 563V564.6M113.73 563V564.6M115.35 563V564.6M116.72 563V564.6M117.91 563V564.6M118.96 563V564.6M119.90 563V565.8M126.07 563V564.6" stroke="#111" stroke-width="0.9" fill="none"/>
<path d="M175.00 563.00C175.72 562.20 178.30 560.88 179.50 558.00C180.70 555.12 181.65 551.08 182.50 545.00C183.35 538.92 184.16 527.20 184.80 520.00C185.44 512.80 186.02 505.12 186.50 500.00C186.98 494.88 187.45 490.59 187.80 488.00C188.15 485.41 188.41 484.04 188.70 483.80C188.99 483.56 189.33 484.28 189.60 486.50C189.87 488.72 190.13 493.78 190.40 497.70C190.67 501.62 191.01 506.58 191.30 511.00C191.59 515.42 191.90 521.14 192.20 525.30C192.50 529.46 192.86 533.45 193.20 537.00C193.54 540.55 193.85 544.62 194.30 547.50C194.75 550.38 195.49 553.08 196.00 555.00C196.51 556.92 196.86 558.22 197.50 559.50C198.14 560.78 199.60 562.44 200.00 563.00L200 563L175 563Z" fill="#c8285a" fill-opacity="0.65" stroke="none"/>
<path d="M175.00 563.00C175.72 562.20 178.30 560.88 179.50 558.00C180.70 555.12 181.65 551.08 182.50 545.00C183.35 538.92 184.16 527.20 184.80 520.00C185.44 512.80 186.02 505.12 186.50 500.00C186.98 494.88 187.45 490.59 187.80 488.00C188.15 485.41 188.41 484.04 188.70 483.80C188.99 483.56 189.33 484.28 189.60 486.50C189.87 488.72 190.13 493.78 190.40 497.70C190.67 501.62 191.01 506.58 191.30 511.00C191.59 515.42 191.90 521.14 192.20 525.30C192.50 529.46 192.86 533.45 193.20 537.00C193.54 540.55 193.85 544.62 194.30 547.50C194.75 550.38 195.49 553.08 196.00 555.00C196.51 556.92 196.86 558.22 197.50 559.50C198.14 560.78 199.60 562.44 200.00 563.00" fill="none" stroke="#a80e3a" stroke-width="1.3" stroke-linejoin="round"/>
<path d="M177.00 563.00C177.56 562.20 179.46 560.88 180.50 558.00C181.54 555.12 182.68 550.76 183.50 545.00C184.32 539.24 184.99 528.88 185.60 522.00C186.21 515.12 186.82 506.80 187.30 502.00C187.78 497.20 188.25 493.84 188.60 492.00C188.95 490.16 189.21 489.59 189.50 490.50C189.79 491.41 190.11 494.42 190.40 497.70C190.69 500.98 191.01 506.58 191.30 511.00C191.59 515.42 191.90 521.14 192.20 525.30C192.50 529.46 192.86 533.45 193.20 537.00C193.54 540.55 193.85 544.62 194.30 547.50C194.75 550.38 195.49 553.08 196.00 555.00C196.51 556.92 196.78 558.22 197.50 559.50C198.22 560.78 200.02 562.44 200.50 563.00L200.5 563L177 563Z" fill="#4a64a8" fill-opacity="0.52" stroke="none"/>
<path d="M177.00 563.00C177.56 562.20 179.46 560.88 180.50 558.00C181.54 555.12 182.68 550.76 183.50 545.00C184.32 539.24 184.99 528.88 185.60 522.00C186.21 515.12 186.82 506.80 187.30 502.00C187.78 497.20 188.25 493.84 188.60 492.00C188.95 490.16 189.21 489.59 189.50 490.50C189.79 491.41 190.11 494.42 190.40 497.70C190.69 500.98 191.01 506.58 191.30 511.00C191.59 515.42 191.90 521.14 192.20 525.30C192.50 529.46 192.86 533.45 193.20 537.00C193.54 540.55 193.85 544.62 194.30 547.50C194.75 550.38 195.49 553.08 196.00 555.00C196.51 556.92 196.78 558.22 197.50 559.50C198.22 560.78 200.02 562.44 200.50 563.00" fill="none" stroke="#1c2e5e" stroke-width="1.35" stroke-linejoin="round"/>
<path d="M173.00 563.00C173.53 562.28 175.32 560.98 176.30 558.50C177.28 556.02 178.33 552.81 179.10 547.50C179.87 542.19 180.56 533.27 181.10 525.30C181.64 517.33 182.07 504.63 182.50 497.70C182.93 490.77 183.46 485.33 183.80 482.00C184.14 478.67 184.34 476.90 184.60 476.90C184.86 476.90 185.18 478.67 185.40 482.00C185.62 485.33 185.79 490.77 186.00 497.70C186.21 504.63 186.27 517.33 186.70 525.30C187.13 533.27 187.82 542.19 188.70 547.50C189.58 552.81 191.19 556.02 192.20 558.50C193.21 560.98 194.55 562.28 195.00 563.00L195 563L173 563Z" fill="#dcdce2" fill-opacity="0.84" stroke="none"/>
<path d="M173.00 563.00C173.53 562.28 175.32 560.98 176.30 558.50C177.28 556.02 178.33 552.81 179.10 547.50C179.87 542.19 180.56 533.27 181.10 525.30C181.64 517.33 182.07 504.63 182.50 497.70C182.93 490.77 183.46 485.33 183.80 482.00C184.14 478.67 184.34 476.90 184.60 476.90C184.86 476.90 185.18 478.67 185.40 482.00C185.62 485.33 185.79 490.77 186.00 497.70C186.21 504.63 186.27 517.33 186.70 525.30C187.13 533.27 187.82 542.19 188.70 547.50C189.58 552.81 191.19 556.02 192.20 558.50C193.21 560.98 194.55 562.28 195.00 563.00" fill="none" stroke="#eeeef0" stroke-width="1.0" stroke-linejoin="round"/>
<rect x="147.8" y="472.1" width="91.39999999999998" height="90.89999999999998" fill="none" stroke="#111" stroke-width="1.4"/>
<path d="M145.0 562.00H147.8M146.2 558.56H147.8M146.2 555.12H147.8M146.2 551.68H147.8M146.2 548.24H147.8M145.0 544.80H147.8M146.2 541.36H147.8M146.2 537.92H147.8M146.2 534.48H147.8M146.2 531.04H147.8M145.0 527.60H147.8M146.2 524.16H147.8M146.2 520.72H147.8M146.2 517.28H147.8M146.2 513.84H147.8M145.0 510.40H147.8M146.2 506.96H147.8M146.2 503.52H147.8M146.2 500.08H147.8M146.2 496.64H147.8M145.0 493.20H147.8M146.2 489.76H147.8M146.2 486.32H147.8M146.2 482.88H147.8M146.2 479.44H147.8M145.0 476.00H147.8M148.00 563V565.8M154.17 563V564.6M157.78 563V564.6M160.34 563V564.6M162.33 563V564.6M163.95 563V564.6M165.32 563V564.6M166.51 563V564.6M167.56 563V564.6M168.50 563V565.8M174.67 563V564.6M178.28 563V564.6M180.84 563V564.6M182.83 563V564.6M184.45 563V564.6M185.82 563V564.6M187.01 563V564.6M188.06 563V564.6M189.00 563V565.8M195.17 563V564.6M198.78 563V564.6M201.34 563V564.6M203.33 563V564.6M204.95 563V564.6M206.32 563V564.6M207.51 563V564.6M208.56 563V564.6M209.50 563V565.8M215.67 563V564.6M219.28 563V564.6M221.84 563V564.6M223.83 563V564.6M225.45 563V564.6M226.82 563V564.6M228.01 563V564.6M229.06 563V564.6M230.00 563V565.8M236.17 563V564.6" stroke="#111" stroke-width="0.9" fill="none"/>
<path d="M295.00 563.00C295.80 562.52 298.72 561.44 300.00 560.00C301.28 558.56 302.20 556.40 303.00 554.00C303.80 551.60 304.39 548.84 305.00 545.00C305.61 541.16 306.24 535.12 306.80 530.00C307.36 524.88 307.94 518.12 308.50 513.00C309.06 507.88 309.74 501.84 310.30 498.00C310.86 494.16 311.50 490.84 312.00 489.00C312.50 487.16 312.98 486.66 313.40 486.50C313.82 486.34 314.18 485.04 314.60 488.00C315.02 490.96 315.54 498.92 316.00 505.00C316.46 511.08 317.02 519.76 317.50 526.00C317.98 532.24 318.47 539.20 319.00 544.00C319.53 548.80 320.00 553.12 320.80 556.00C321.60 558.88 323.01 560.88 324.00 562.00C324.99 563.12 326.52 562.84 327.00 563.00L327 563L295 563Z" fill="#4a64a8" fill-opacity="0.52" stroke="none"/>
<path d="M295.00 563.00C295.80 562.52 298.72 561.44 300.00 560.00C301.28 558.56 302.20 556.40 303.00 554.00C303.80 551.60 304.39 548.84 305.00 545.00C305.61 541.16 306.24 535.12 306.80 530.00C307.36 524.88 307.94 518.12 308.50 513.00C309.06 507.88 309.74 501.84 310.30 498.00C310.86 494.16 311.50 490.84 312.00 489.00C312.50 487.16 312.98 486.66 313.40 486.50C313.82 486.34 314.18 485.04 314.60 488.00C315.02 490.96 315.54 498.92 316.00 505.00C316.46 511.08 317.02 519.76 317.50 526.00C317.98 532.24 318.47 539.20 319.00 544.00C319.53 548.80 320.00 553.12 320.80 556.00C321.60 558.88 323.01 560.88 324.00 562.00C324.99 563.12 326.52 562.84 327.00 563.00" fill="none" stroke="#1c2e5e" stroke-width="1.35" stroke-linejoin="round"/>
<path d="M291.00 563.00C291.80 562.76 294.61 562.22 296.00 561.50C297.39 560.78 298.74 559.86 299.70 558.50C300.66 557.14 301.34 554.76 302.00 553.00C302.66 551.24 303.27 550.22 303.80 547.50C304.33 544.78 304.85 539.55 305.30 536.00C305.75 532.45 306.17 529.30 306.60 525.30C307.03 521.30 307.55 515.42 308.00 511.00C308.45 506.58 308.95 501.70 309.40 497.70C309.85 493.70 310.32 488.88 310.80 486.00C311.28 483.12 311.95 480.34 312.40 479.70C312.85 479.06 313.22 480.03 313.60 482.00C313.98 483.97 314.37 487.28 314.80 492.00C315.23 496.72 315.88 506.38 316.30 511.50C316.72 516.62 317.06 520.02 317.40 524.00C317.74 527.98 318.05 532.72 318.40 536.40C318.75 540.08 319.17 543.90 319.60 547.00C320.03 550.10 320.30 553.56 321.10 555.80C321.90 558.04 323.50 559.85 324.60 561.00C325.70 562.15 327.46 562.68 328.00 563.00L328 563L291 563Z" fill="#c8285a" fill-opacity="0.42" stroke="none"/>
<path d="M257.8 562.4L291 562.4L291.00 563.00C291.80 562.76 294.61 562.22 296.00 561.50C297.39 560.78 298.74 559.86 299.70 558.50C300.66 557.14 301.34 554.76 302.00 553.00C302.66 551.24 303.27 550.22 303.80 547.50C304.33 544.78 304.85 539.55 305.30 536.00C305.75 532.45 306.17 529.30 306.60 525.30C307.03 521.30 307.55 515.42 308.00 511.00C308.45 506.58 308.95 501.70 309.40 497.70C309.85 493.70 310.32 488.88 310.80 486.00C311.28 483.12 311.95 480.34 312.40 479.70C312.85 479.06 313.22 480.03 313.60 482.00C313.98 483.97 314.37 487.28 314.80 492.00C315.23 496.72 315.88 506.38 316.30 511.50C316.72 516.62 317.06 520.02 317.40 524.00C317.74 527.98 318.05 532.72 318.40 536.40C318.75 540.08 319.17 543.90 319.60 547.00C320.03 550.10 320.30 553.56 321.10 555.80C321.90 558.04 323.50 559.85 324.60 561.00C325.70 562.15 327.46 562.68 328.00 563.00L349 562.4" fill="none" stroke="#a80e3a" stroke-width="1.7" stroke-linejoin="round"/>
<rect x="257.8" y="471.7" width="91.19999999999999" height="91.30000000000001" fill="none" stroke="#111" stroke-width="1.4"/>
<path d="M255.0 562.00H257.8M256.2 558.56H257.8M256.2 555.12H257.8M256.2 551.68H257.8M256.2 548.24H257.8M255.0 544.80H257.8M256.2 541.36H257.8M256.2 537.92H257.8M256.2 534.48H257.8M256.2 531.04H257.8M255.0 527.60H257.8M256.2 524.16H257.8M256.2 520.72H257.8M256.2 517.28H257.8M256.2 513.84H257.8M255.0 510.40H257.8M256.2 506.96H257.8M256.2 503.52H257.8M256.2 500.08H257.8M256.2 496.64H257.8M255.0 493.20H257.8M256.2 489.76H257.8M256.2 486.32H257.8M256.2 482.88H257.8M256.2 479.44H257.8M255.0 476.00H257.8M258.00 563V565.8M264.17 563V564.6M267.78 563V564.6M270.34 563V564.6M272.33 563V564.6M273.95 563V564.6M275.32 563V564.6M276.51 563V564.6M277.56 563V564.6M278.50 563V565.8M284.67 563V564.6M288.28 563V564.6M290.84 563V564.6M292.83 563V564.6M294.45 563V564.6M295.82 563V564.6M297.01 563V564.6M298.06 563V564.6M299.00 563V565.8M305.17 563V564.6M308.78 563V564.6M311.34 563V564.6M313.33 563V564.6M314.95 563V564.6M316.32 563V564.6M317.51 563V564.6M318.56 563V564.6M319.50 563V565.8M325.67 563V564.6M329.28 563V564.6M331.84 563V564.6M333.83 563V564.6M335.45 563V564.6M336.82 563V564.6M338.01 563V564.6M339.06 563V564.6M340.00 563V565.8M346.17 563V564.6" stroke="#111" stroke-width="0.9" fill="none"/>
<path d="M57.50 672.50C58.11 671.97 60.34 670.56 61.30 669.20C62.26 667.84 62.88 665.66 63.50 664.00C64.12 662.34 64.67 662.48 65.20 658.80C65.73 655.12 66.29 646.57 66.80 641.00C67.31 635.43 67.97 629.28 68.40 624.00C68.83 618.72 69.18 612.00 69.50 608.00C69.82 604.00 70.11 600.92 70.40 599.00C70.69 597.08 71.01 597.04 71.30 596.00C71.59 594.96 71.94 593.33 72.20 592.50C72.46 591.67 72.69 590.80 72.90 590.80C73.11 590.80 73.28 591.03 73.50 592.50C73.72 593.97 74.01 596.88 74.30 600.00C74.59 603.12 75.00 608.59 75.30 612.00C75.60 615.41 75.75 617.33 76.20 621.30C76.65 625.27 77.38 632.86 78.10 636.80C78.82 640.74 79.76 643.10 80.70 645.90C81.64 648.70 82.86 651.82 84.00 654.30C85.14 656.78 86.25 659.43 87.80 661.40C89.35 663.37 91.72 665.14 93.70 666.60C95.68 668.06 98.55 669.56 100.20 670.50C101.85 671.44 103.39 672.18 104.00 672.50L104 672.5L57.5 672.5Z" fill="#c8285a" fill-opacity="0.65" stroke="none"/>
<path d="M57.50 672.50C58.11 671.97 60.34 670.56 61.30 669.20C62.26 667.84 62.88 665.66 63.50 664.00C64.12 662.34 64.67 662.48 65.20 658.80C65.73 655.12 66.29 646.57 66.80 641.00C67.31 635.43 67.97 629.28 68.40 624.00C68.83 618.72 69.18 612.00 69.50 608.00C69.82 604.00 70.11 600.92 70.40 599.00C70.69 597.08 71.01 597.04 71.30 596.00C71.59 594.96 71.94 593.33 72.20 592.50C72.46 591.67 72.69 590.80 72.90 590.80C73.11 590.80 73.28 591.03 73.50 592.50C73.72 593.97 74.01 596.88 74.30 600.00C74.59 603.12 75.00 608.59 75.30 612.00C75.60 615.41 75.75 617.33 76.20 621.30C76.65 625.27 77.38 632.86 78.10 636.80C78.82 640.74 79.76 643.10 80.70 645.90C81.64 648.70 82.86 651.82 84.00 654.30C85.14 656.78 86.25 659.43 87.80 661.40C89.35 663.37 91.72 665.14 93.70 666.60C95.68 668.06 98.55 669.56 100.20 670.50C101.85 671.44 103.39 672.18 104.00 672.50" fill="none" stroke="#a80e3a" stroke-width="1.3" stroke-linejoin="round"/>
<path d="M61.00 672.50C61.56 671.78 63.52 670.40 64.50 668.00C65.48 665.60 66.38 661.02 67.10 657.50C67.82 653.98 68.38 649.31 69.00 646.00C69.62 642.69 70.44 639.84 71.00 636.80C71.56 633.76 72.08 629.69 72.50 627.00C72.92 624.31 73.15 621.65 73.60 620.00C74.05 618.35 74.68 616.28 75.30 616.70C75.92 617.12 76.73 619.38 77.50 622.60C78.27 625.82 79.27 632.35 80.10 636.80C80.93 641.25 81.98 648.74 82.70 650.40C83.42 652.06 83.88 648.45 84.60 647.20C85.32 645.95 86.37 642.92 87.20 642.60C88.03 642.28 89.08 644.26 89.80 645.20C90.52 646.14 90.92 648.92 91.70 648.50C92.48 648.08 93.87 642.60 94.70 642.60C95.53 642.60 96.02 646.93 96.90 648.50C97.78 650.07 99.06 650.96 100.20 652.40C101.34 653.84 102.86 655.95 104.00 657.50C105.14 659.05 106.36 661.27 107.30 662.10C108.24 662.93 108.76 661.77 109.90 662.70C111.04 663.63 113.06 666.56 114.40 667.90C115.74 669.24 117.40 670.36 118.30 671.10C119.20 671.84 119.73 672.28 120.00 672.50L120 672.5L61 672.5Z" fill="#4a64a8" fill-opacity="0.52" stroke="none"/>
<path d="M61.00 672.50C61.56 671.78 63.52 670.40 64.50 668.00C65.48 665.60 66.38 661.02 67.10 657.50C67.82 653.98 68.38 649.31 69.00 646.00C69.62 642.69 70.44 639.84 71.00 636.80C71.56 633.76 72.08 629.69 72.50 627.00C72.92 624.31 73.15 621.65 73.60 620.00C74.05 618.35 74.68 616.28 75.30 616.70C75.92 617.12 76.73 619.38 77.50 622.60C78.27 625.82 79.27 632.35 80.10 636.80C80.93 641.25 81.98 648.74 82.70 650.40C83.42 652.06 83.88 648.45 84.60 647.20C85.32 645.95 86.37 642.92 87.20 642.60C88.03 642.28 89.08 644.26 89.80 645.20C90.52 646.14 90.92 648.92 91.70 648.50C92.48 648.08 93.87 642.60 94.70 642.60C95.53 642.60 96.02 646.93 96.90 648.50C97.78 650.07 99.06 650.96 100.20 652.40C101.34 653.84 102.86 655.95 104.00 657.50C105.14 659.05 106.36 661.27 107.30 662.10C108.24 662.93 108.76 661.77 109.90 662.70C111.04 663.63 113.06 666.56 114.40 667.90C115.74 669.24 117.40 670.36 118.30 671.10C119.20 671.84 119.73 672.28 120.00 672.50" fill="none" stroke="#1c2e5e" stroke-width="1.35" stroke-linejoin="round"/>
<rect x="37.7" y="581.7" width="91.3" height="90.79999999999995" fill="none" stroke="#111" stroke-width="1.4"/>
<path d="M34.9 671.50H37.7M36.1 668.06H37.7M36.1 664.62H37.7M36.1 661.18H37.7M36.1 657.74H37.7M34.9 654.30H37.7M36.1 650.86H37.7M36.1 647.42H37.7M36.1 643.98H37.7M36.1 640.54H37.7M34.9 637.10H37.7M36.1 633.66H37.7M36.1 630.22H37.7M36.1 626.78H37.7M36.1 623.34H37.7M34.9 619.90H37.7M36.1 616.46H37.7M36.1 613.02H37.7M36.1 609.58H37.7M36.1 606.14H37.7M34.9 602.70H37.7M36.1 599.26H37.7M36.1 595.82H37.7M36.1 592.38H37.7M36.1 588.94H37.7M34.9 585.50H37.7M37.90 672.5V675.3M44.07 672.5V674.1M47.68 672.5V674.1M50.24 672.5V674.1M52.23 672.5V674.1M53.85 672.5V674.1M55.22 672.5V674.1M56.41 672.5V674.1M57.46 672.5V674.1M58.40 672.5V675.3M64.57 672.5V674.1M68.18 672.5V674.1M70.74 672.5V674.1M72.73 672.5V674.1M74.35 672.5V674.1M75.72 672.5V674.1M76.91 672.5V674.1M77.96 672.5V674.1M78.90 672.5V675.3M85.07 672.5V674.1M88.68 672.5V674.1M91.24 672.5V674.1M93.23 672.5V674.1M94.85 672.5V674.1M96.22 672.5V674.1M97.41 672.5V674.1M98.46 672.5V674.1M99.40 672.5V675.3M105.57 672.5V674.1M109.18 672.5V674.1M111.74 672.5V674.1M113.73 672.5V674.1M115.35 672.5V674.1M116.72 672.5V674.1M117.91 672.5V674.1M118.96 672.5V674.1M119.90 672.5V675.3M126.07 672.5V674.1" stroke="#111" stroke-width="0.9" fill="none"/>
<path d="M176.00 672.50C176.56 671.14 178.51 669.20 179.50 664.00C180.49 658.80 181.51 647.84 182.20 640.00C182.89 632.16 183.37 622.04 183.80 615.00C184.23 607.96 184.63 600.38 184.90 596.00C185.17 591.62 185.31 588.24 185.50 587.60C185.69 586.96 185.89 590.34 186.10 592.00C186.31 593.66 186.69 597.04 186.80 598.00L186.8 672.5L176 672.5Z" fill="#dcdce2" fill-opacity="0.84" stroke="none"/>
<path d="M176.00 672.50C176.56 671.14 178.51 669.20 179.50 664.00C180.49 658.80 181.51 647.84 182.20 640.00C182.89 632.16 183.37 622.04 183.80 615.00C184.23 607.96 184.63 600.38 184.90 596.00C185.17 591.62 185.31 588.24 185.50 587.60C185.69 586.96 185.89 590.34 186.10 592.00C186.31 593.66 186.69 597.04 186.80 598.00" fill="none" stroke="#eeeef0" stroke-width="1.0" stroke-linejoin="round"/>
<path d="M174.00 672.50C174.46 672.08 176.13 671.26 176.90 669.90C177.67 668.54 178.24 665.98 178.80 664.00C179.36 662.02 179.92 660.22 180.40 657.50C180.88 654.78 181.37 650.55 181.80 647.00C182.23 643.45 182.73 639.62 183.10 635.30C183.47 630.98 183.81 624.42 184.10 620.00C184.39 615.58 184.63 611.22 184.90 607.70C185.17 604.18 185.48 600.11 185.80 598.00C186.12 595.89 186.58 594.66 186.90 594.50C187.22 594.34 187.53 595.48 187.80 597.00C188.07 598.52 188.31 601.12 188.60 604.00C188.89 606.88 189.28 611.16 189.60 615.00C189.92 618.84 190.28 624.00 190.60 628.00C190.92 632.00 191.22 636.16 191.60 640.00C191.98 643.84 192.54 648.48 193.00 652.00C193.46 655.52 193.94 659.12 194.50 662.00C195.06 664.88 195.78 668.32 196.50 670.00C197.22 671.68 198.60 672.10 199.00 672.50L199 672.5L174 672.5Z" fill="#c8285a" fill-opacity="0.65" stroke="none"/>
<path d="M174.00 672.50C174.46 672.08 176.13 671.26 176.90 669.90C177.67 668.54 178.24 665.98 178.80 664.00C179.36 662.02 179.92 660.22 180.40 657.50C180.88 654.78 181.37 650.55 181.80 647.00C182.23 643.45 182.73 639.62 183.10 635.30C183.47 630.98 183.81 624.42 184.10 620.00C184.39 615.58 184.63 611.22 184.90 607.70C185.17 604.18 185.48 600.11 185.80 598.00C186.12 595.89 186.58 594.66 186.90 594.50C187.22 594.34 187.53 595.48 187.80 597.00C188.07 598.52 188.31 601.12 188.60 604.00C188.89 606.88 189.28 611.16 189.60 615.00C189.92 618.84 190.28 624.00 190.60 628.00C190.92 632.00 191.22 636.16 191.60 640.00C191.98 643.84 192.54 648.48 193.00 652.00C193.46 655.52 193.94 659.12 194.50 662.00C195.06 664.88 195.78 668.32 196.50 670.00C197.22 671.68 198.60 672.10 199.00 672.50" fill="none" stroke="#a80e3a" stroke-width="1.3" stroke-linejoin="round"/>
<path d="M179.00 672.50C179.45 671.86 181.13 670.50 181.80 668.50C182.47 666.50 182.77 663.09 183.20 660.00C183.63 656.91 184.05 653.36 184.50 649.20C184.95 645.04 185.55 638.43 186.00 634.00C186.45 629.57 186.92 625.50 187.30 621.50C187.68 617.50 188.06 611.88 188.40 609.00C188.74 606.12 189.10 603.02 189.40 603.50C189.70 603.98 189.98 608.02 190.30 612.00C190.62 615.98 191.06 623.92 191.40 628.40C191.74 632.88 192.06 636.24 192.40 640.00C192.74 643.76 193.15 648.54 193.50 651.90C193.85 655.26 194.26 658.34 194.60 661.00C194.94 663.66 195.10 666.66 195.60 668.50C196.10 670.34 197.36 671.86 197.70 672.50L197.7 672.5L179 672.5Z" fill="#4a64a8" fill-opacity="0.52" stroke="none"/>
<path d="M179.00 672.50C179.45 671.86 181.13 670.50 181.80 668.50C182.47 666.50 182.77 663.09 183.20 660.00C183.63 656.91 184.05 653.36 184.50 649.20C184.95 645.04 185.55 638.43 186.00 634.00C186.45 629.57 186.92 625.50 187.30 621.50C187.68 617.50 188.06 611.88 188.40 609.00C188.74 606.12 189.10 603.02 189.40 603.50C189.70 603.98 189.98 608.02 190.30 612.00C190.62 615.98 191.06 623.92 191.40 628.40C191.74 632.88 192.06 636.24 192.40 640.00C192.74 643.76 193.15 648.54 193.50 651.90C193.85 655.26 194.26 658.34 194.60 661.00C194.94 663.66 195.10 666.66 195.60 668.50C196.10 670.34 197.36 671.86 197.70 672.50" fill="none" stroke="#1c2e5e" stroke-width="1.35" stroke-linejoin="round"/>
<rect x="148" y="581.7" width="91.4" height="90.79999999999995" fill="none" stroke="#111" stroke-width="1.4"/>
<path d="M145.2 671.50H148M146.4 668.06H148M146.4 664.62H148M146.4 661.18H148M146.4 657.74H148M145.2 654.30H148M146.4 650.86H148M146.4 647.42H148M146.4 643.98H148M146.4 640.54H148M145.2 637.10H148M146.4 633.66H148M146.4 630.22H148M146.4 626.78H148M146.4 623.34H148M145.2 619.90H148M146.4 616.46H148M146.4 613.02H148M146.4 609.58H148M146.4 606.14H148M145.2 602.70H148M146.4 599.26H148M146.4 595.82H148M146.4 592.38H148M146.4 588.94H148M145.2 585.50H148M148.20 672.5V675.3M154.37 672.5V674.1M157.98 672.5V674.1M160.54 672.5V674.1M162.53 672.5V674.1M164.15 672.5V674.1M165.52 672.5V674.1M166.71 672.5V674.1M167.76 672.5V674.1M168.70 672.5V675.3M174.87 672.5V674.1M178.48 672.5V674.1M181.04 672.5V674.1M183.03 672.5V674.1M184.65 672.5V674.1M186.02 672.5V674.1M187.21 672.5V674.1M188.26 672.5V674.1M189.20 672.5V675.3M195.37 672.5V674.1M198.98 672.5V674.1M201.54 672.5V674.1M203.53 672.5V674.1M205.15 672.5V674.1M206.52 672.5V674.1M207.71 672.5V674.1M208.76 672.5V674.1M209.70 672.5V675.3M215.87 672.5V674.1M219.48 672.5V674.1M222.04 672.5V674.1M224.03 672.5V674.1M225.65 672.5V674.1M227.02 672.5V674.1M228.21 672.5V674.1M229.26 672.5V674.1M230.20 672.5V675.3M236.37 672.5V674.1" stroke="#111" stroke-width="0.9" fill="none"/>
<path d="M292.00 672.50C292.78 672.31 295.70 671.78 296.90 671.30C298.10 670.82 298.72 670.17 299.50 669.50C300.28 668.83 301.13 668.14 301.80 667.10C302.47 666.06 303.16 664.54 303.70 663.00C304.24 661.46 304.75 659.58 305.20 657.50C305.65 655.42 306.10 652.45 306.50 650.00C306.90 647.55 307.30 645.24 307.70 642.20C308.10 639.16 308.62 634.31 309.00 631.00C309.38 627.69 309.75 625.02 310.10 621.50C310.45 617.98 310.88 612.33 311.20 609.00C311.52 605.67 311.81 603.18 312.10 600.70C312.39 598.22 312.73 595.08 313.00 593.50C313.27 591.92 313.51 590.96 313.80 590.80C314.09 590.64 314.51 591.57 314.80 592.50C315.09 593.43 315.36 594.17 315.60 596.60C315.84 599.03 316.04 603.64 316.30 607.70C316.56 611.76 316.90 617.15 317.20 622.00C317.50 626.85 317.88 633.20 318.20 638.00C318.52 642.80 318.86 648.00 319.20 652.00C319.54 656.00 319.85 660.12 320.30 663.00C320.75 665.88 321.25 668.48 322.00 670.00C322.75 671.52 324.52 672.10 325.00 672.50L325 672.5L292 672.5Z" fill="#c8285a" fill-opacity="0.65" stroke="none"/>
<path d="M292.00 672.50C292.78 672.31 295.70 671.78 296.90 671.30C298.10 670.82 298.72 670.17 299.50 669.50C300.28 668.83 301.13 668.14 301.80 667.10C302.47 666.06 303.16 664.54 303.70 663.00C304.24 661.46 304.75 659.58 305.20 657.50C305.65 655.42 306.10 652.45 306.50 650.00C306.90 647.55 307.30 645.24 307.70 642.20C308.10 639.16 308.62 634.31 309.00 631.00C309.38 627.69 309.75 625.02 310.10 621.50C310.45 617.98 310.88 612.33 311.20 609.00C311.52 605.67 311.81 603.18 312.10 600.70C312.39 598.22 312.73 595.08 313.00 593.50C313.27 591.92 313.51 590.96 313.80 590.80C314.09 590.64 314.51 591.57 314.80 592.50C315.09 593.43 315.36 594.17 315.60 596.60C315.84 599.03 316.04 603.64 316.30 607.70C316.56 611.76 316.90 617.15 317.20 622.00C317.50 626.85 317.88 633.20 318.20 638.00C318.52 642.80 318.86 648.00 319.20 652.00C319.54 656.00 319.85 660.12 320.30 663.00C320.75 665.88 321.25 668.48 322.00 670.00C322.75 671.52 324.52 672.10 325.00 672.50" fill="none" stroke="#a80e3a" stroke-width="1.3" stroke-linejoin="round"/>
<path d="M303.00 672.50C303.48 672.26 305.20 671.64 306.00 671.00C306.80 670.36 307.44 669.62 308.00 668.50C308.56 667.38 309.07 665.76 309.50 664.00C309.93 662.24 310.30 660.22 310.70 657.50C311.10 654.78 311.55 650.55 312.00 647.00C312.45 643.45 313.08 638.98 313.50 635.30C313.92 631.62 314.26 627.31 314.60 624.00C314.94 620.69 315.28 617.32 315.60 614.60C315.92 611.88 316.26 608.78 316.60 607.00C316.94 605.22 317.41 602.70 317.70 603.50C317.99 604.30 318.19 608.02 318.40 612.00C318.61 615.98 318.74 623.60 319.00 628.40C319.26 633.20 319.66 637.79 320.00 642.00C320.34 646.21 320.75 651.50 321.10 654.70C321.45 657.90 321.86 660.02 322.20 662.00C322.54 663.98 322.78 665.82 323.20 667.10C323.62 668.38 324.24 669.33 324.80 670.00C325.36 670.67 326.03 670.90 326.70 671.30C327.37 671.70 328.63 672.31 329.00 672.50L329 672.5L303 672.5Z" fill="#4a64a8" fill-opacity="0.52" stroke="none"/>
<path d="M303.00 672.50C303.48 672.26 305.20 671.64 306.00 671.00C306.80 670.36 307.44 669.62 308.00 668.50C308.56 667.38 309.07 665.76 309.50 664.00C309.93 662.24 310.30 660.22 310.70 657.50C311.10 654.78 311.55 650.55 312.00 647.00C312.45 643.45 313.08 638.98 313.50 635.30C313.92 631.62 314.26 627.31 314.60 624.00C314.94 620.69 315.28 617.32 315.60 614.60C315.92 611.88 316.26 608.78 316.60 607.00C316.94 605.22 317.41 602.70 317.70 603.50C317.99 604.30 318.19 608.02 318.40 612.00C318.61 615.98 318.74 623.60 319.00 628.40C319.26 633.20 319.66 637.79 320.00 642.00C320.34 646.21 320.75 651.50 321.10 654.70C321.45 657.90 321.86 660.02 322.20 662.00C322.54 663.98 322.78 665.82 323.20 667.10C323.62 668.38 324.24 669.33 324.80 670.00C325.36 670.67 326.03 670.90 326.70 671.30C327.37 671.70 328.63 672.31 329.00 672.50" fill="none" stroke="#1c2e5e" stroke-width="1.35" stroke-linejoin="round"/>
<rect x="258" y="581.7" width="91" height="90.79999999999995" fill="none" stroke="#111" stroke-width="1.4"/>
<path d="M255.2 671.50H258M256.4 668.06H258M256.4 664.62H258M256.4 661.18H258M256.4 657.74H258M255.2 654.30H258M256.4 650.86H258M256.4 647.42H258M256.4 643.98H258M256.4 640.54H258M255.2 637.10H258M256.4 633.66H258M256.4 630.22H258M256.4 626.78H258M256.4 623.34H258M255.2 619.90H258M256.4 616.46H258M256.4 613.02H258M256.4 609.58H258M256.4 606.14H258M255.2 602.70H258M256.4 599.26H258M256.4 595.82H258M256.4 592.38H258M256.4 588.94H258M255.2 585.50H258M258.20 672.5V675.3M264.37 672.5V674.1M267.98 672.5V674.1M270.54 672.5V674.1M272.53 672.5V674.1M274.15 672.5V674.1M275.52 672.5V674.1M276.71 672.5V674.1M277.76 672.5V674.1M278.70 672.5V675.3M284.87 672.5V674.1M288.48 672.5V674.1M291.04 672.5V674.1M293.03 672.5V674.1M294.65 672.5V674.1M296.02 672.5V674.1M297.21 672.5V674.1M298.26 672.5V674.1M299.20 672.5V675.3M305.37 672.5V674.1M308.98 672.5V674.1M311.54 672.5V674.1M313.53 672.5V674.1M315.15 672.5V674.1M316.52 672.5V674.1M317.71 672.5V674.1M318.76 672.5V674.1M319.70 672.5V675.3M325.87 672.5V674.1M329.48 672.5V674.1M332.04 672.5V674.1M334.03 672.5V674.1M335.65 672.5V674.1M337.02 672.5V674.1M338.21 672.5V674.1M339.26 672.5V674.1M340.20 672.5V675.3M346.37 672.5V674.1" stroke="#111" stroke-width="0.9" fill="none"/>
</svg>
</body></html>
